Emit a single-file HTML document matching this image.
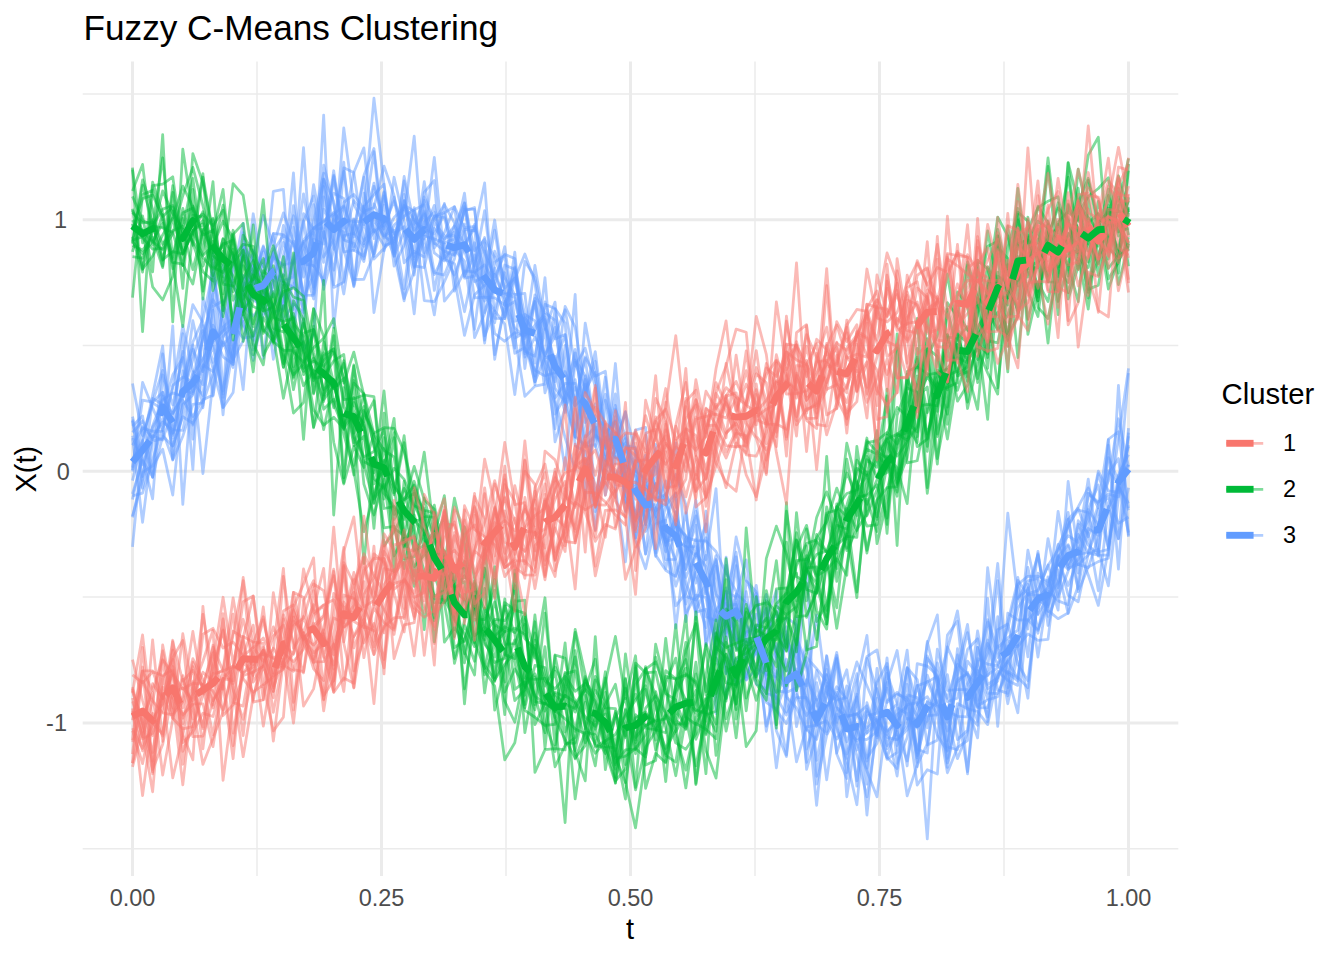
<!DOCTYPE html>
<html><head><meta charset="utf-8"><style>
html,body{margin:0;padding:0;background:#fff;width:1344px;height:960px;overflow:hidden}
svg{display:block}
text{font-family:"Liberation Sans",sans-serif}
.ax{font-size:23.5px;fill:#4D4D4D}
.lt{font-size:29.3px;fill:#000}
.lx{font-size:23.5px;fill:#000}
</style></head><body>
<svg width="1344" height="960" viewBox="0 0 1344 960">
<rect width="1344" height="960" fill="#fff"/>
<line x1="82.7" x2="1178.3" y1="93.90" y2="93.90" stroke="#EBEBEB" stroke-width="1.5"/>
<line x1="82.7" x2="1178.3" y1="345.50" y2="345.50" stroke="#EBEBEB" stroke-width="1.5"/>
<line x1="82.7" x2="1178.3" y1="597.10" y2="597.10" stroke="#EBEBEB" stroke-width="1.5"/>
<line x1="82.7" x2="1178.3" y1="848.70" y2="848.70" stroke="#EBEBEB" stroke-width="1.5"/>
<line y1="61.4" y2="875.9" x1="257.00" x2="257.00" stroke="#EBEBEB" stroke-width="1.5"/>
<line y1="61.4" y2="875.9" x1="506.00" x2="506.00" stroke="#EBEBEB" stroke-width="1.5"/>
<line y1="61.4" y2="875.9" x1="755.00" x2="755.00" stroke="#EBEBEB" stroke-width="1.5"/>
<line y1="61.4" y2="875.9" x1="1004.00" x2="1004.00" stroke="#EBEBEB" stroke-width="1.5"/>
<line x1="82.7" x2="1178.3" y1="219.70" y2="219.70" stroke="#EBEBEB" stroke-width="3"/>
<line x1="82.7" x2="1178.3" y1="471.30" y2="471.30" stroke="#EBEBEB" stroke-width="3"/>
<line x1="82.7" x2="1178.3" y1="722.90" y2="722.90" stroke="#EBEBEB" stroke-width="3"/>
<line y1="61.4" y2="875.9" x1="132.50" x2="132.50" stroke="#EBEBEB" stroke-width="3"/>
<line y1="61.4" y2="875.9" x1="381.50" x2="381.50" stroke="#EBEBEB" stroke-width="3"/>
<line y1="61.4" y2="875.9" x1="630.50" x2="630.50" stroke="#EBEBEB" stroke-width="3"/>
<line y1="61.4" y2="875.9" x1="879.50" x2="879.50" stroke="#EBEBEB" stroke-width="3"/>
<line y1="61.4" y2="875.9" x1="1128.50" x2="1128.50" stroke="#EBEBEB" stroke-width="3"/>
<clipPath id="cp"><rect x="82.7" y="61.4" width="1095.6" height="814.5"/></clipPath>
<g clip-path="url(#cp)">
<g stroke="#619CFF" stroke-opacity="0.5" stroke-width="2.76" fill="none" stroke-linejoin="round">
<path d="M132.50,419.56 142.56,476.65 152.62,425.74 162.68,399.80 172.74,392.85 182.80,396.80 192.86,320.74 202.92,366.74 212.98,272.80 223.05,337.64 233.11,272.88 243.17,223.28 253.23,350.09 263.29,297.00 273.35,281.05 283.41,242.35 293.47,268.24 303.53,349.78 313.59,334.54 323.65,186.45 333.71,242.62 343.77,294.02 353.83,230.01 363.89,175.41 373.95,148.46 384.02,235.98 394.08,230.20 404.14,288.80 414.20,207.67 424.26,252.95 434.32,216.35 444.38,212.64 454.44,206.80 464.50,276.39 474.56,242.77 484.62,335.89 494.68,310.76 504.74,324.10 514.80,394.65 524.86,314.41 534.92,320.85 544.98,355.69 555.05,327.40 565.11,397.85 575.17,436.89 585.23,384.08 595.29,446.49 605.35,377.05 615.41,463.67 625.47,438.57 635.53,467.13 645.59,524.80 655.65,451.59 665.71,502.47 675.77,538.80 685.83,546.92 695.89,546.54 705.95,583.20 716.02,713.50 726.08,603.22 736.14,640.69 746.20,632.07 756.26,628.66 766.32,608.62 776.38,698.96 786.44,631.62 796.50,676.52 806.56,657.54 816.62,668.62 826.68,681.86 836.74,753.17 846.80,720.97 856.86,696.81 866.92,758.09 876.98,743.35 887.05,700.69 897.11,692.36 907.17,701.58 917.23,749.24 927.29,753.06 937.35,649.24 947.41,690.43 957.47,689.74 967.53,689.65 977.59,721.32 987.65,643.48 997.71,664.32 1007.77,651.82 1017.83,597.80 1027.89,589.46 1037.95,554.79 1048.02,611.60 1058.08,554.89 1068.14,512.31 1078.20,591.73 1088.26,566.98 1098.32,561.63 1108.38,558.22 1118.44,484.24 1128.50,446.65"/>
<path d="M132.50,425.98 142.56,415.91 152.62,477.31 162.68,353.92 172.74,433.28 182.80,388.81 192.86,393.73 202.92,367.78 212.98,341.87 223.05,330.78 233.11,323.07 243.17,305.50 253.23,316.00 263.29,305.51 273.35,338.71 283.41,280.78 293.47,276.86 303.53,147.56 313.59,293.84 323.65,231.09 333.71,287.42 343.77,282.29 353.83,218.82 363.89,258.86 373.95,220.05 384.02,235.89 394.08,243.65 404.14,298.67 414.20,271.26 424.26,222.02 434.32,212.12 444.38,257.84 454.44,245.87 464.50,211.03 474.56,207.49 484.62,312.49 494.68,285.58 504.74,246.64 514.80,321.27 524.86,317.75 534.92,331.88 544.98,375.56 555.05,372.79 565.11,371.54 575.17,400.87 585.23,358.40 595.29,434.02 605.35,447.89 615.41,421.08 625.47,503.18 635.53,480.82 645.59,553.77 655.65,467.00 665.71,537.06 675.77,559.84 685.83,604.08 695.89,572.47 705.95,616.79 716.02,620.68 726.08,565.38 736.14,633.45 746.20,679.51 756.26,644.45 766.32,675.14 776.38,649.25 786.44,626.71 796.50,726.66 806.56,679.57 816.62,700.16 826.68,675.26 836.74,722.47 846.80,685.99 856.86,786.20 866.92,658.35 876.98,690.23 887.05,728.31 897.11,776.04 907.17,694.81 917.23,697.57 927.29,711.79 937.35,700.62 947.41,722.21 957.47,679.15 967.53,673.97 977.59,686.79 987.65,717.01 997.71,629.68 1007.77,624.01 1017.83,664.59 1027.89,680.66 1037.95,599.59 1048.02,606.65 1058.08,569.90 1068.14,613.65 1078.20,586.01 1088.26,493.51 1098.32,503.68 1108.38,481.02 1118.44,418.75 1128.50,466.44"/>
<path d="M132.50,546.82 142.56,442.75 152.62,395.24 162.68,345.96 172.74,460.07 182.80,436.23 192.86,404.43 202.92,402.94 212.98,373.34 223.05,342.27 233.11,367.46 243.17,232.70 253.23,293.61 263.29,289.65 273.35,257.32 283.41,264.94 293.47,262.49 303.53,193.79 313.59,250.63 323.65,284.71 333.71,216.49 343.77,240.06 353.83,243.21 363.89,261.56 373.95,203.82 384.02,226.30 394.08,201.03 404.14,231.11 414.20,249.89 424.26,181.61 434.32,243.79 444.38,203.46 454.44,291.22 464.50,271.00 474.56,271.99 484.62,285.84 494.68,230.25 504.74,292.85 514.80,294.32 524.86,351.34 534.92,356.15 544.98,304.39 555.05,308.52 565.11,323.29 575.17,437.35 585.23,323.05 595.29,377.49 605.35,432.56 615.41,420.83 625.47,499.98 635.53,520.65 645.59,493.36 655.65,556.28 665.71,519.56 675.77,493.21 685.83,596.37 695.89,600.04 705.95,584.83 716.02,638.95 726.08,628.44 736.14,593.89 746.20,602.47 756.26,636.13 766.32,731.32 776.38,673.55 786.44,640.59 796.50,658.50 806.56,703.93 816.62,805.26 826.68,706.76 836.74,692.15 846.80,715.84 856.86,714.40 866.92,705.82 876.98,737.83 887.05,673.18 897.11,703.60 907.17,765.98 917.23,663.67 927.29,666.10 937.35,675.23 947.41,762.91 957.47,714.56 967.53,661.11 977.59,674.60 987.65,653.44 997.71,563.30 1007.77,675.81 1017.83,712.78 1027.89,610.15 1037.95,633.28 1048.02,576.79 1058.08,610.10 1068.14,481.33 1078.20,554.48 1088.26,552.50 1098.32,525.19 1108.38,470.60 1118.44,483.58 1128.50,532.65"/>
<path d="M132.50,471.47 142.56,426.65 152.62,437.98 162.68,395.94 172.74,413.64 182.80,394.98 192.86,359.59 202.92,325.69 212.98,396.01 223.05,336.54 233.11,324.80 243.17,338.22 253.23,336.71 263.29,310.28 273.35,253.88 283.41,282.06 293.47,287.13 303.53,243.36 313.59,289.11 323.65,196.80 333.71,249.34 343.77,219.65 353.83,221.60 363.89,221.26 373.95,151.70 384.02,250.88 394.08,177.26 404.14,221.07 414.20,256.55 424.26,231.39 434.32,205.35 444.38,255.29 454.44,275.01 464.50,247.64 474.56,224.52 484.62,273.86 494.68,333.50 504.74,341.30 514.80,332.54 524.86,335.66 534.92,329.44 544.98,316.75 555.05,372.41 565.11,412.46 575.17,362.34 585.23,390.02 595.29,372.19 605.35,495.04 615.41,444.09 625.47,412.24 635.53,451.95 645.59,526.64 655.65,483.41 665.71,559.64 675.77,559.30 685.83,512.53 695.89,583.12 705.95,555.32 716.02,611.53 726.08,673.46 736.14,658.86 746.20,680.14 756.26,668.89 766.32,674.14 776.38,677.30 786.44,689.95 796.50,617.78 806.56,749.04 816.62,719.02 826.68,695.89 836.74,652.35 846.80,714.23 856.86,673.57 866.92,784.17 876.98,668.28 887.05,748.68 897.11,731.78 907.17,760.95 917.23,710.76 927.29,644.17 937.35,614.92 947.41,740.80 957.47,674.73 967.53,632.69 977.59,683.63 987.65,674.81 997.71,667.63 1007.77,622.36 1017.83,580.29 1027.89,594.52 1037.95,595.24 1048.02,605.02 1058.08,560.63 1068.14,585.55 1078.20,560.35 1088.26,493.11 1098.32,502.23 1108.38,494.05 1118.44,496.90 1128.50,436.16"/>
<path d="M132.50,420.92 142.56,488.15 152.62,437.36 162.68,421.83 172.74,429.94 182.80,430.48 192.86,377.88 202.92,338.42 212.98,293.24 223.05,407.33 233.11,348.63 243.17,321.33 253.23,360.44 263.29,314.80 273.35,305.36 283.41,293.62 293.47,340.12 303.53,241.47 313.59,266.29 323.65,178.89 333.71,201.01 343.77,281.65 353.83,219.81 363.89,243.66 373.95,186.46 384.02,217.73 394.08,241.51 404.14,205.72 414.20,219.27 424.26,235.01 434.32,157.31 444.38,259.21 454.44,263.64 464.50,311.75 474.56,263.35 484.62,237.48 494.68,359.33 504.74,301.42 514.80,348.14 524.86,261.35 534.92,277.38 544.98,329.43 555.05,302.07 565.11,403.16 575.17,349.37 585.23,422.49 595.29,403.76 605.35,442.85 615.41,457.90 625.47,442.71 635.53,528.49 645.59,504.69 655.65,504.60 665.71,541.96 675.77,538.23 685.83,569.39 695.89,511.10 705.95,559.64 716.02,488.61 726.08,643.98 736.14,596.09 746.20,559.88 756.26,639.25 766.32,702.32 776.38,709.49 786.44,682.11 796.50,639.79 806.56,668.41 816.62,784.07 826.68,735.49 836.74,714.14 846.80,772.60 856.86,694.13 866.92,815.00 876.98,717.46 887.05,737.38 897.11,739.89 907.17,729.78 917.23,703.93 927.29,696.60 937.35,714.85 947.41,772.81 957.47,747.39 967.53,740.56 977.59,647.49 987.65,675.77 997.71,645.95 1007.77,703.76 1017.83,653.24 1027.89,599.25 1037.95,614.06 1048.02,597.97 1058.08,582.16 1068.14,519.11 1078.20,573.01 1088.26,508.97 1098.32,485.00 1108.38,548.04 1118.44,482.68 1128.50,471.72"/>
<path d="M132.50,432.46 142.56,420.82 152.62,439.54 162.68,418.55 172.74,435.29 182.80,400.27 192.86,416.63 202.92,399.66 212.98,395.05 223.05,303.72 233.11,280.05 243.17,325.16 253.23,340.28 263.29,289.80 273.35,191.41 283.41,189.31 293.47,322.41 303.53,263.00 313.59,184.57 323.65,237.71 333.71,170.76 343.77,239.38 353.83,200.69 363.89,212.79 373.95,98.12 384.02,184.99 394.08,266.03 404.14,245.05 414.20,211.06 424.26,300.54 434.32,301.64 444.38,281.57 454.44,259.00 464.50,206.65 474.56,272.17 484.62,264.96 494.68,283.59 504.74,318.60 514.80,252.13 524.86,357.15 534.92,337.25 544.98,355.19 555.05,335.93 565.11,309.77 575.17,365.86 585.23,348.25 595.29,387.07 605.35,455.12 615.41,444.31 625.47,411.38 635.53,538.20 645.59,482.96 655.65,516.97 665.71,493.60 675.77,513.87 685.83,545.99 695.89,515.84 705.95,644.16 716.02,566.17 726.08,673.58 736.14,604.65 746.20,635.68 756.26,614.11 766.32,658.47 776.38,730.72 786.44,756.55 796.50,668.78 806.56,699.50 816.62,724.91 826.68,720.80 836.74,739.14 846.80,723.50 856.86,755.49 866.92,796.95 876.98,731.16 887.05,683.17 897.11,650.50 907.17,718.98 917.23,718.85 927.29,675.21 937.35,704.31 947.41,716.58 957.47,758.64 967.53,732.78 977.59,660.91 987.65,721.67 997.71,616.55 1007.77,695.74 1017.83,640.33 1027.89,620.56 1037.95,607.81 1048.02,587.89 1058.08,556.85 1068.14,569.57 1078.20,559.19 1088.26,528.44 1098.32,535.28 1108.38,445.13 1118.44,569.16 1128.50,432.54"/>
<path d="M132.50,480.68 142.56,439.40 152.62,402.18 162.68,392.15 172.74,433.04 182.80,333.76 192.86,439.04 202.92,330.56 212.98,368.28 223.05,407.64 233.11,392.54 243.17,300.32 253.23,213.76 263.29,276.16 273.35,233.35 283.41,234.70 293.47,282.21 303.53,213.52 313.59,229.12 323.65,228.47 333.71,193.26 343.77,198.58 353.83,247.17 363.89,206.33 373.95,253.66 384.02,195.92 394.08,236.82 404.14,205.20 414.20,211.15 424.26,239.00 434.32,215.97 444.38,217.56 454.44,254.57 464.50,209.17 474.56,209.26 484.62,296.07 494.68,310.49 504.74,272.61 514.80,338.01 524.86,332.73 534.92,298.33 544.98,363.70 555.05,428.78 565.11,345.35 575.17,445.73 585.23,451.54 595.29,529.77 605.35,400.18 615.41,437.91 625.47,445.87 635.53,447.40 645.59,496.80 655.65,552.78 665.71,505.45 675.77,492.99 685.83,613.97 695.89,595.08 705.95,597.62 716.02,649.21 726.08,587.78 736.14,649.44 746.20,591.62 756.26,648.59 766.32,633.97 776.38,612.60 786.44,670.75 796.50,648.56 806.56,688.78 816.62,760.41 826.68,708.22 836.74,686.70 846.80,699.09 856.86,726.90 866.92,768.06 876.98,698.47 887.05,757.20 897.11,768.59 907.17,696.63 917.23,762.33 927.29,702.33 937.35,706.23 947.41,750.29 957.47,648.55 967.53,707.46 977.59,630.96 987.65,684.51 997.71,677.83 1007.77,646.10 1017.83,646.54 1027.89,633.93 1037.95,640.45 1048.02,639.40 1058.08,556.29 1068.14,595.24 1078.20,601.76 1088.26,553.66 1098.32,549.14 1108.38,585.91 1118.44,498.24 1128.50,464.99"/>
<path d="M132.50,460.18 142.56,440.52 152.62,477.22 162.68,435.98 172.74,446.17 182.80,416.77 192.86,423.45 202.92,405.30 212.98,325.20 223.05,345.56 233.11,331.89 243.17,244.30 253.23,299.88 263.29,306.75 273.35,247.82 283.41,284.74 293.47,205.70 303.53,263.78 313.59,265.69 323.65,280.35 333.71,218.64 343.77,171.45 353.83,236.96 363.89,211.38 373.95,207.41 384.02,166.06 394.08,195.44 404.14,262.78 414.20,251.33 424.26,256.96 434.32,228.19 444.38,239.38 454.44,231.98 464.50,278.22 474.56,276.03 484.62,243.11 494.68,284.91 504.74,316.68 514.80,266.89 524.86,315.26 534.92,363.22 544.98,277.54 555.05,400.09 565.11,437.64 575.17,470.28 585.23,375.84 595.29,435.98 605.35,441.95 615.41,436.45 625.47,480.92 635.53,539.97 645.59,568.80 655.65,523.91 665.71,520.14 675.77,628.15 685.83,546.39 695.89,556.24 705.95,537.73 716.02,594.32 726.08,606.24 736.14,604.01 746.20,639.78 756.26,653.62 766.32,657.07 776.38,643.43 786.44,697.05 796.50,708.04 806.56,729.38 816.62,739.51 826.68,696.73 836.74,655.40 846.80,754.13 856.86,727.45 866.92,760.98 876.98,688.60 887.05,734.59 897.11,714.59 907.17,705.94 917.23,755.60 927.29,715.51 937.35,714.95 947.41,674.68 957.47,739.62 967.53,730.38 977.59,647.34 987.65,688.77 997.71,681.04 1007.77,640.66 1017.83,645.12 1027.89,550.04 1037.95,597.53 1048.02,587.53 1058.08,544.30 1068.14,567.07 1078.20,547.97 1088.26,574.98 1098.32,605.45 1108.38,548.71 1118.44,482.95 1128.50,510.30"/>
<path d="M132.50,445.30 142.56,427.98 152.62,431.25 162.68,431.29 172.74,459.65 182.80,404.45 192.86,394.88 202.92,338.13 212.98,299.59 223.05,316.37 233.11,364.71 243.17,246.51 253.23,259.55 263.29,278.04 273.35,359.29 283.41,302.38 293.47,260.10 303.53,220.79 313.59,286.97 323.65,115.08 333.71,327.43 343.77,235.70 353.83,233.32 363.89,246.29 373.95,232.02 384.02,191.71 394.08,253.49 404.14,300.87 414.20,221.49 424.26,228.87 434.32,234.03 444.38,214.03 454.44,246.36 464.50,224.12 474.56,337.71 484.62,313.66 494.68,267.99 504.74,305.30 514.80,267.89 524.86,353.69 534.92,301.31 544.98,367.30 555.05,398.02 565.11,383.36 575.17,383.37 585.23,446.75 595.29,444.70 605.35,478.58 615.41,409.01 625.47,436.01 635.53,518.25 645.59,474.18 655.65,520.70 665.71,568.75 675.77,526.29 685.83,569.54 695.89,538.96 705.95,593.94 716.02,555.70 726.08,633.21 736.14,618.54 746.20,625.08 756.26,640.08 766.32,653.83 776.38,672.00 786.44,684.20 796.50,637.68 806.56,662.46 816.62,726.38 826.68,656.36 836.74,708.34 846.80,741.74 856.86,713.93 866.92,728.04 876.98,719.06 887.05,759.35 897.11,752.29 907.17,667.64 917.23,679.53 927.29,744.91 937.35,740.30 947.41,635.12 957.47,621.03 967.53,714.42 977.59,725.40 987.65,567.57 997.71,647.46 1007.77,637.88 1017.83,630.15 1027.89,567.46 1037.95,614.56 1048.02,538.55 1058.08,587.76 1068.14,545.75 1078.20,588.81 1088.26,528.06 1098.32,473.60 1108.38,509.32 1118.44,438.86 1128.50,368.38"/>
<path d="M132.50,435.75 142.56,464.73 152.62,435.81 162.68,440.06 172.74,325.89 182.80,504.46 192.86,374.74 202.92,359.01 212.98,340.92 223.05,394.07 233.11,313.96 243.17,302.49 253.23,250.18 263.29,266.72 273.35,233.92 283.41,302.49 293.47,262.20 303.53,242.29 313.59,232.16 323.65,262.45 333.71,175.22 343.77,249.88 353.83,284.45 363.89,206.06 373.95,194.90 384.02,184.10 394.08,256.20 404.14,231.63 414.20,275.17 424.26,196.92 434.32,220.42 444.38,204.75 454.44,222.91 464.50,276.34 474.56,255.05 484.62,343.11 494.68,262.17 504.74,255.42 514.80,336.59 524.86,396.38 534.92,386.10 544.98,384.07 555.05,309.18 565.11,370.29 575.17,431.96 585.23,379.44 595.29,498.26 605.35,440.87 615.41,405.38 625.47,476.21 635.53,430.02 645.59,427.46 655.65,555.13 665.71,570.22 675.77,576.70 685.83,537.40 695.89,540.66 705.95,540.96 716.02,551.50 726.08,573.37 736.14,591.36 746.20,632.89 756.26,684.13 766.32,688.85 776.38,656.13 786.44,617.24 796.50,624.81 806.56,769.43 816.62,734.84 826.68,655.50 836.74,753.96 846.80,778.46 856.86,697.70 866.92,656.71 876.98,649.86 887.05,702.51 897.11,694.19 907.17,697.94 917.23,716.49 927.29,838.80 937.35,677.62 947.41,714.93 957.47,654.96 967.53,708.75 977.59,737.94 987.65,619.58 997.71,649.28 1007.77,513.01 1017.83,598.47 1027.89,580.90 1037.95,578.50 1048.02,616.40 1058.08,593.42 1068.14,524.81 1078.20,509.99 1088.26,512.49 1098.32,556.15 1108.38,439.57 1118.44,538.84 1128.50,487.65"/>
<path d="M132.50,383.55 142.56,435.56 152.62,402.81 162.68,409.46 172.74,445.70 182.80,415.34 192.86,371.55 202.92,473.68 212.98,380.97 223.05,305.14 233.11,333.39 243.17,320.28 253.23,264.86 263.29,307.02 273.35,252.29 283.41,320.03 293.47,303.84 303.53,312.71 313.59,239.25 323.65,244.05 333.71,176.63 343.77,228.37 353.83,172.43 363.89,147.84 373.95,238.51 384.02,205.07 394.08,252.38 404.14,194.41 414.20,265.78 424.26,267.54 434.32,222.64 444.38,235.81 454.44,235.96 464.50,250.79 474.56,281.78 484.62,276.00 494.68,220.01 504.74,292.66 514.80,353.30 524.86,347.64 534.92,370.21 544.98,376.03 555.05,403.60 565.11,469.53 575.17,360.00 585.23,375.51 595.29,425.33 605.35,458.86 615.41,478.04 625.47,448.27 635.53,470.73 645.59,479.30 655.65,510.87 665.71,503.37 675.77,525.91 685.83,536.28 695.89,553.46 705.95,523.87 716.02,640.36 726.08,557.05 736.14,639.44 746.20,641.51 756.26,647.55 766.32,678.36 776.38,767.89 786.44,692.58 796.50,687.63 806.56,762.31 816.62,682.61 826.68,731.60 836.74,659.16 846.80,707.57 856.86,750.11 866.92,715.78 876.98,713.15 887.05,688.19 897.11,727.27 907.17,795.82 917.23,764.86 927.29,743.91 937.35,690.24 947.41,710.91 957.47,716.26 967.53,716.98 977.59,670.45 987.65,698.71 997.71,671.14 1007.77,680.40 1017.83,685.42 1027.89,584.43 1037.95,657.05 1048.02,590.87 1058.08,600.88 1068.14,604.76 1078.20,540.02 1088.26,520.41 1098.32,471.19 1108.38,490.88 1118.44,492.48 1128.50,373.08"/>
<path d="M132.50,495.84 142.56,493.20 152.62,459.64 162.68,427.85 172.74,385.45 182.80,377.10 192.86,381.78 202.92,395.49 212.98,306.43 223.05,300.69 233.11,349.46 243.17,283.66 253.23,280.69 263.29,247.03 273.35,270.37 283.41,309.42 293.47,227.22 303.53,277.03 313.59,222.54 323.65,173.11 333.71,284.59 343.77,167.85 353.83,172.45 363.89,241.20 373.95,229.47 384.02,245.62 394.08,242.02 404.14,200.39 414.20,258.96 424.26,235.98 434.32,238.97 444.38,242.88 454.44,239.02 464.50,193.15 474.56,278.86 484.62,301.09 494.68,251.25 504.74,277.63 514.80,294.64 524.86,293.47 534.92,381.91 544.98,301.93 555.05,338.88 565.11,334.52 575.17,407.84 585.23,469.93 595.29,434.16 605.35,465.77 615.41,363.50 625.47,478.92 635.53,487.42 645.59,455.10 655.65,487.64 665.71,501.33 675.77,442.79 685.83,551.08 695.89,500.27 705.95,577.01 716.02,655.60 726.08,698.03 736.14,602.31 746.20,676.77 756.26,649.03 766.32,594.38 776.38,658.41 786.44,691.61 796.50,761.83 806.56,726.95 816.62,725.09 826.68,683.24 836.74,695.56 846.80,717.04 856.86,713.54 866.92,732.98 876.98,721.73 887.05,712.36 897.11,704.40 907.17,650.10 917.23,757.78 927.29,655.89 937.35,680.99 947.41,758.48 957.47,703.53 967.53,708.84 977.59,711.46 987.65,724.62 997.71,674.77 1007.77,661.35 1017.83,645.24 1027.89,698.26 1037.95,590.66 1048.02,565.46 1058.08,549.64 1068.14,535.72 1078.20,542.24 1088.26,479.07 1098.32,551.99 1108.38,549.44 1118.44,474.51 1128.50,454.66"/>
<path d="M132.50,499.47 142.56,453.96 152.62,427.25 162.68,409.36 172.74,375.03 182.80,357.57 192.86,469.45 202.92,297.95 212.98,331.76 223.05,356.80 233.11,364.19 243.17,275.42 253.23,285.29 263.29,245.79 273.35,278.30 283.41,275.54 293.47,172.92 303.53,326.36 313.59,227.68 323.65,221.75 333.71,214.49 343.77,205.73 353.83,233.95 363.89,177.23 373.95,312.61 384.02,250.13 394.08,224.99 404.14,216.10 414.20,209.69 424.26,204.67 434.32,290.47 444.38,238.95 454.44,226.09 464.50,203.35 474.56,266.11 484.62,210.73 494.68,291.78 504.74,293.87 514.80,297.49 524.86,334.73 534.92,301.61 544.98,392.85 555.05,356.22 565.11,390.83 575.17,405.89 585.23,356.96 595.29,376.16 605.35,371.24 615.41,457.34 625.47,462.09 635.53,537.84 645.59,509.87 655.65,444.47 665.71,542.45 675.77,586.20 685.83,555.77 695.89,525.13 705.95,646.14 716.02,610.12 726.08,596.32 736.14,552.20 746.20,662.29 756.26,593.27 766.32,677.78 776.38,710.42 786.44,723.58 796.50,697.54 806.56,697.58 816.62,715.55 826.68,669.35 836.74,706.65 846.80,721.56 856.86,743.08 866.92,771.02 876.98,796.81 887.05,714.56 897.11,720.39 907.17,667.56 917.23,704.82 927.29,681.47 937.35,704.78 947.41,731.05 957.47,682.14 967.53,672.27 977.59,707.10 987.65,667.66 997.71,580.61 1007.77,687.54 1017.83,577.47 1027.89,629.05 1037.95,551.38 1048.02,625.44 1058.08,581.93 1068.14,553.06 1078.20,554.06 1088.26,509.63 1098.32,525.21 1108.38,457.53 1118.44,480.83 1128.50,445.17"/>
<path d="M132.50,516.04 142.56,480.19 152.62,398.33 162.68,404.48 172.74,413.24 182.80,396.90 192.86,349.30 202.92,371.61 212.98,346.14 223.05,397.39 233.11,255.17 243.17,280.67 253.23,266.27 263.29,358.39 273.35,276.81 283.41,281.79 293.47,309.45 303.53,222.07 313.59,195.86 323.65,257.15 333.71,239.70 343.77,162.20 353.83,285.79 363.89,193.16 373.95,231.84 384.02,224.08 394.08,243.55 404.14,180.87 414.20,267.57 424.26,192.47 434.32,180.46 444.38,301.19 454.44,288.40 464.50,231.08 474.56,297.92 484.62,297.18 494.68,297.96 504.74,304.99 514.80,276.98 524.86,338.53 534.92,325.26 544.98,314.23 555.05,414.14 565.11,396.45 575.17,352.80 585.23,414.63 595.29,511.54 605.35,463.92 615.41,416.59 625.47,479.42 635.53,494.55 645.59,500.72 655.65,483.90 665.71,545.26 675.77,524.22 685.83,535.72 695.89,610.63 705.95,588.92 716.02,620.86 726.08,598.24 736.14,683.75 746.20,580.97 756.26,599.82 766.32,693.26 776.38,696.79 786.44,715.06 796.50,694.35 806.56,715.64 816.62,699.11 826.68,779.83 836.74,707.82 846.80,716.98 856.86,780.75 866.92,711.69 876.98,720.79 887.05,731.32 897.11,721.85 907.17,704.55 917.23,702.72 927.29,727.84 937.35,662.92 947.41,701.54 957.47,698.20 967.53,649.44 977.59,638.81 987.65,693.02 997.71,693.53 1007.77,671.55 1017.83,677.40 1027.89,687.70 1037.95,595.60 1048.02,599.10 1058.08,555.19 1068.14,564.87 1078.20,534.37 1088.26,553.21 1098.32,555.15 1108.38,473.78 1118.44,458.53 1128.50,536.73"/>
<path d="M132.50,438.19 142.56,522.27 152.62,441.17 162.68,438.59 172.74,412.94 182.80,351.42 192.86,425.16 202.92,373.18 212.98,252.61 223.05,391.07 233.11,345.77 243.17,311.12 253.23,290.13 263.29,306.60 273.35,286.06 283.41,225.44 293.47,264.33 303.53,240.03 313.59,228.49 323.65,220.91 333.71,212.46 343.77,224.73 353.83,250.27 363.89,223.45 373.95,256.34 384.02,216.21 394.08,233.62 404.14,226.73 414.20,266.51 424.26,239.48 434.32,274.66 444.38,254.55 454.44,225.98 464.50,244.33 474.56,227.92 484.62,252.67 494.68,276.93 504.74,254.31 514.80,258.57 524.86,368.58 534.92,294.96 544.98,312.70 555.05,320.46 565.11,404.72 575.17,294.33 585.23,498.32 595.29,415.61 605.35,427.09 615.41,453.03 625.47,435.09 635.53,474.60 645.59,524.58 655.65,457.84 665.71,537.82 675.77,519.14 685.83,582.51 695.89,612.17 705.95,609.45 716.02,640.43 726.08,593.85 736.14,685.40 746.20,675.99 756.26,649.59 766.32,726.19 776.38,690.57 786.44,692.28 796.50,638.39 806.56,706.45 816.62,723.11 826.68,734.09 836.74,696.92 846.80,729.62 856.86,740.86 866.92,732.66 876.98,682.67 887.05,663.45 897.11,745.62 907.17,718.30 917.23,728.04 927.29,641.46 937.35,684.04 947.41,767.36 957.47,709.46 967.53,771.62 977.59,679.76 987.65,640.01 997.71,689.88 1007.77,693.33 1017.83,585.63 1027.89,656.88 1037.95,573.07 1048.02,585.55 1058.08,546.19 1068.14,526.97 1078.20,506.79 1088.26,487.84 1098.32,507.77 1108.38,496.67 1118.44,523.31 1128.50,516.98"/>
<path d="M132.50,494.00 142.56,460.47 152.62,476.71 162.68,392.29 172.74,438.12 182.80,379.94 192.86,344.94 202.92,407.78 212.98,310.37 223.05,414.85 233.11,313.45 243.17,252.52 253.23,276.71 263.29,251.95 273.35,296.91 283.41,255.09 293.47,215.75 303.53,299.69 313.59,204.63 323.65,289.46 333.71,249.87 343.77,127.81 353.83,204.25 363.89,224.68 373.95,183.05 384.02,228.93 394.08,197.02 404.14,235.27 414.20,313.92 424.26,210.97 434.32,252.84 444.38,260.88 454.44,245.72 464.50,202.74 474.56,250.67 484.62,239.32 494.68,257.41 504.74,288.15 514.80,278.21 524.86,320.99 534.92,375.78 544.98,328.94 555.05,441.97 565.11,407.65 575.17,387.49 585.23,406.48 595.29,431.73 605.35,394.24 615.41,487.75 625.47,561.96 635.53,449.83 645.59,493.51 655.65,515.15 665.71,541.49 675.77,605.85 685.83,593.31 695.89,553.02 705.95,585.88 716.02,654.09 726.08,591.40 736.14,597.15 746.20,644.14 756.26,651.23 766.32,608.27 776.38,656.61 786.44,634.74 796.50,690.89 806.56,640.90 816.62,706.22 826.68,674.43 836.74,726.81 846.80,758.21 856.86,682.54 866.92,635.46 876.98,735.17 887.05,667.18 897.11,730.29 907.17,684.23 917.23,753.14 927.29,701.15 937.35,735.15 947.41,751.19 957.47,668.35 967.53,624.34 977.59,706.01 987.65,699.94 997.71,696.60 1007.77,662.21 1017.83,607.90 1027.89,593.60 1037.95,590.61 1048.02,564.96 1058.08,597.13 1068.14,571.33 1078.20,524.07 1088.26,545.12 1098.32,555.21 1108.38,555.14 1118.44,385.45 1128.50,535.45"/>
<path d="M132.50,470.19 142.56,382.34 152.62,407.84 162.68,430.68 172.74,387.98 182.80,325.43 192.86,370.63 202.92,384.64 212.98,294.18 223.05,264.74 233.11,359.28 243.17,282.45 253.23,292.79 263.29,260.00 273.35,256.14 283.41,267.13 293.47,240.97 303.53,295.21 313.59,295.44 323.65,209.07 333.71,227.80 343.77,231.76 353.83,286.78 363.89,242.74 373.95,212.73 384.02,238.09 394.08,217.42 404.14,207.73 414.20,230.22 424.26,212.66 434.32,242.71 444.38,251.25 454.44,255.46 464.50,229.30 474.56,230.84 484.62,182.95 494.68,318.26 504.74,318.69 514.80,279.23 524.86,253.97 534.92,282.33 544.98,359.71 555.05,381.61 565.11,306.40 575.17,327.02 585.23,392.32 595.29,351.69 605.35,431.85 615.41,478.25 625.47,465.23 635.53,476.27 645.59,554.07 655.65,517.53 665.71,542.53 675.77,523.64 685.83,577.40 695.89,553.98 705.95,566.35 716.02,611.08 726.08,615.61 736.14,536.95 746.20,580.64 756.26,591.94 766.32,659.25 776.38,703.21 786.44,659.22 796.50,686.70 806.56,561.45 816.62,776.27 826.68,716.72 836.74,657.81 846.80,796.76 856.86,730.14 866.92,709.50 876.98,731.16 887.05,757.78 897.11,725.96 907.17,668.56 917.23,766.69 927.29,658.16 937.35,671.84 947.41,746.84 957.47,749.71 967.53,683.79 977.59,665.44 987.65,621.81 997.71,657.54 1007.77,629.06 1017.83,584.37 1027.89,576.29 1037.95,576.15 1048.02,581.40 1058.08,565.06 1068.14,519.42 1078.20,508.21 1088.26,536.81 1098.32,505.16 1108.38,439.27 1118.44,431.73 1128.50,508.18"/>
<path d="M132.50,416.64 142.56,458.58 152.62,498.84 162.68,374.91 172.74,404.92 182.80,356.30 192.86,304.61 202.92,322.41 212.98,362.32 223.05,340.37 233.11,359.38 243.17,340.59 253.23,279.20 263.29,297.77 273.35,251.18 283.41,234.94 293.47,243.79 303.53,264.57 313.59,298.97 323.65,231.94 333.71,270.21 343.77,202.41 353.83,194.36 363.89,209.32 373.95,259.16 384.02,248.23 394.08,239.04 404.14,216.70 414.20,136.10 424.26,263.54 434.32,314.94 444.38,243.78 454.44,277.54 464.50,335.40 474.56,294.82 484.62,285.19 494.68,322.75 504.74,264.98 514.80,269.29 524.86,328.03 534.92,384.54 544.98,319.63 555.05,388.27 565.11,401.75 575.17,379.62 585.23,437.26 595.29,426.99 605.35,460.64 615.41,432.58 625.47,495.26 635.53,511.13 645.59,531.52 655.65,510.64 665.71,480.88 675.77,575.73 685.83,549.12 695.89,596.94 705.95,627.67 716.02,559.36 726.08,635.45 736.14,565.66 746.20,664.99 756.26,625.82 766.32,619.53 776.38,590.72 786.44,712.14 796.50,686.31 806.56,661.41 816.62,722.30 826.68,686.61 836.74,730.06 846.80,760.34 856.86,804.77 866.92,702.69 876.98,735.77 887.05,657.78 897.11,763.48 907.17,737.51 917.23,685.34 927.29,721.40 937.35,687.91 947.41,649.11 957.47,610.92 967.53,683.15 977.59,707.88 987.65,707.51 997.71,676.75 1007.77,661.02 1017.83,678.73 1027.89,597.91 1037.95,553.59 1048.02,610.36 1058.08,618.70 1068.14,612.89 1078.20,520.74 1088.26,533.30 1098.32,590.80 1108.38,507.82 1118.44,487.25 1128.50,503.14"/>
<path d="M132.50,517.39 142.56,472.44 152.62,465.95 162.68,449.14 172.74,495.03 182.80,398.43 192.86,341.99 202.92,319.52 212.98,270.69 223.05,325.26 233.11,361.83 243.17,290.62 253.23,256.17 263.29,215.28 273.35,245.40 283.41,212.83 293.47,240.93 303.53,297.74 313.59,274.94 323.65,165.05 333.71,204.47 343.77,251.99 353.83,250.16 363.89,256.00 373.95,214.38 384.02,229.17 394.08,256.03 404.14,176.44 414.20,224.33 424.26,200.20 434.32,247.88 444.38,232.63 454.44,206.86 464.50,227.91 474.56,226.30 484.62,340.02 494.68,274.47 504.74,299.22 514.80,328.08 524.86,336.93 534.92,265.38 544.98,325.81 555.05,361.47 565.11,334.99 575.17,405.83 585.23,395.18 595.29,361.27 605.35,444.10 615.41,477.54 625.47,484.01 635.53,518.94 645.59,485.68 655.65,498.68 665.71,494.44 675.77,474.19 685.83,504.32 695.89,619.38 705.95,511.14 716.02,595.28 726.08,628.57 736.14,556.80 746.20,622.87 756.26,585.29 766.32,663.09 776.38,699.10 786.44,754.97 796.50,646.66 806.56,730.25 816.62,670.48 826.68,704.54 836.74,695.97 846.80,669.76 856.86,738.65 866.92,739.53 876.98,731.61 887.05,682.60 897.11,739.27 907.17,725.70 917.23,685.75 927.29,682.16 937.35,676.26 947.41,698.31 957.47,664.29 967.53,674.30 977.59,700.13 987.65,598.48 997.71,726.43 1007.77,613.01 1017.83,620.13 1027.89,619.62 1037.95,630.40 1048.02,603.46 1058.08,511.29 1068.14,568.47 1078.20,564.32 1088.26,567.64 1098.32,537.62 1108.38,506.33 1118.44,538.50 1128.50,428.17"/>
<path d="M132.50,467.61 142.56,400.05 152.62,402.07 162.68,370.31 172.74,458.53 182.80,370.92 192.86,391.44 202.92,364.93 212.98,371.60 223.05,327.16 233.11,318.59 243.17,389.58 253.23,265.50 263.29,280.65 273.35,312.70 283.41,307.92 293.47,283.56 303.53,309.29 313.59,237.24 323.65,179.57 333.71,223.77 343.77,206.90 353.83,279.50 363.89,279.34 373.95,253.82 384.02,192.52 394.08,253.87 404.14,201.18 414.20,233.29 424.26,214.32 434.32,272.75 444.38,275.05 454.44,249.80 464.50,261.28 474.56,329.33 484.62,250.82 494.68,354.73 504.74,307.66 514.80,301.46 524.86,342.26 534.92,381.61 544.98,357.11 555.05,360.18 565.11,405.30 575.17,436.47 585.23,445.50 595.29,435.81 605.35,448.63 615.41,393.81 625.47,511.84 635.53,464.90 645.59,510.97 655.65,507.55 665.71,551.77 675.77,511.89 685.83,621.63 695.89,566.37 705.95,585.61 716.02,560.69 726.08,622.44 736.14,608.09 746.20,623.98 756.26,675.03 766.32,664.61 776.38,676.56 786.44,638.52 796.50,680.16 806.56,685.76 816.62,614.92 826.68,693.35 836.74,700.12 846.80,697.50 856.86,661.92 866.92,685.82 876.98,710.10 887.05,745.67 897.11,707.87 907.17,713.74 917.23,785.11 927.29,769.71 937.35,774.05 947.41,646.78 957.47,669.74 967.53,773.80 977.59,658.62 987.65,664.17 997.71,665.79 1007.77,673.02 1017.83,680.92 1027.89,587.92 1037.95,629.10 1048.02,598.62 1058.08,557.29 1068.14,544.62 1078.20,564.65 1088.26,554.89 1098.32,509.12 1108.38,547.62 1118.44,475.70 1128.50,464.75"/>
</g>
<g stroke="#00BA38" stroke-opacity="0.5" stroke-width="2.76" fill="none" stroke-linejoin="round">
<path d="M132.50,210.24 142.56,230.70 152.62,286.82 162.68,299.98 172.74,276.52 182.80,218.46 192.86,243.47 202.92,271.83 212.98,280.95 223.05,238.82 233.11,329.49 243.17,250.33 253.23,272.25 263.29,333.42 273.35,316.34 283.41,291.65 293.47,287.67 303.53,296.28 313.59,352.78 323.65,389.60 333.71,379.40 343.77,421.72 353.83,465.46 363.89,411.56 373.95,433.11 384.02,427.70 394.08,428.34 404.14,451.56 414.20,493.04 424.26,539.72 434.32,557.04 444.38,584.09 454.44,612.50 464.50,611.82 474.56,587.50 484.62,609.15 494.68,681.56 504.74,602.58 514.80,610.08 524.86,613.10 534.92,724.72 544.98,702.76 555.05,710.39 565.11,718.82 575.17,729.04 585.23,733.84 595.29,753.35 605.35,740.98 615.41,734.29 625.47,715.46 635.53,699.92 645.59,685.61 655.65,749.96 665.71,715.11 675.77,624.56 685.83,725.16 695.89,673.85 705.95,721.29 716.02,646.96 726.08,657.95 736.14,703.72 746.20,620.12 756.26,605.31 766.32,602.75 776.38,728.14 786.44,605.24 796.50,539.74 806.56,589.49 816.62,593.34 826.68,559.41 836.74,628.28 846.80,565.79 856.86,510.40 866.92,459.71 876.98,467.29 887.05,435.12 897.11,482.36 907.17,371.54 917.23,367.05 927.29,373.30 937.35,388.03 947.41,334.27 957.47,375.88 967.53,371.79 977.59,409.46 987.65,305.36 997.71,387.87 1007.77,290.13 1017.83,261.91 1027.89,238.90 1037.95,221.08 1048.02,228.22 1058.08,276.56 1068.14,204.11 1078.20,229.87 1088.26,298.14 1098.32,228.52 1108.38,289.03 1118.44,259.97 1128.50,243.07"/>
<path d="M132.50,241.85 142.56,185.22 152.62,224.19 162.68,259.61 172.74,251.69 182.80,253.97 192.86,230.62 202.92,223.76 212.98,267.32 223.05,272.45 233.11,249.14 243.17,311.37 253.23,295.27 263.29,305.97 273.35,341.53 283.41,350.26 293.47,350.25 303.53,385.76 313.59,370.38 323.65,429.66 333.71,382.42 343.77,429.69 353.83,397.46 363.89,427.32 373.95,478.66 384.02,488.41 394.08,468.24 404.14,479.35 414.20,504.84 424.26,525.96 434.32,620.82 444.38,564.00 454.44,636.55 464.50,594.23 474.56,635.61 484.62,627.65 494.68,680.60 504.74,653.99 514.80,601.46 524.86,600.19 534.92,772.46 544.98,749.60 555.05,748.55 565.11,749.96 575.17,629.26 585.23,674.38 595.29,720.85 605.35,682.70 615.41,636.42 625.47,698.73 635.53,655.76 645.59,765.07 655.65,760.47 665.71,676.41 675.77,679.05 685.83,674.89 695.89,683.46 705.95,712.71 716.02,651.33 726.08,608.80 736.14,622.26 746.20,710.92 756.26,629.88 766.32,635.60 776.38,620.38 786.44,617.55 796.50,644.87 806.56,570.52 816.62,517.49 826.68,491.83 836.74,520.23 846.80,550.62 856.86,529.11 866.92,514.31 876.98,452.52 887.05,468.23 897.11,333.81 907.17,437.74 917.23,406.39 927.29,404.40 937.35,405.76 947.41,334.79 957.47,372.39 967.53,338.56 977.59,336.00 987.65,419.40 997.71,276.02 1007.77,283.25 1017.83,310.77 1027.89,217.25 1037.95,307.30 1048.02,318.54 1058.08,270.05 1068.14,282.42 1078.20,202.46 1088.26,224.52 1098.32,238.21 1108.38,221.37 1118.44,256.10 1128.50,212.84"/>
<path d="M132.50,212.52 142.56,222.91 152.62,221.83 162.68,266.07 172.74,192.47 182.80,288.34 192.86,153.62 202.92,182.83 212.98,231.82 223.05,310.67 233.11,252.61 243.17,341.33 253.23,299.40 263.29,270.74 273.35,280.93 283.41,324.11 293.47,347.64 303.53,342.53 313.59,426.86 323.65,395.71 333.71,328.19 343.77,477.58 353.83,366.13 363.89,423.48 373.95,472.93 384.02,390.84 394.08,492.76 404.14,435.62 414.20,521.89 424.26,517.46 434.32,575.27 444.38,603.54 454.44,658.52 464.50,620.58 474.56,583.22 484.62,665.27 494.68,679.82 504.74,664.36 514.80,652.80 524.86,687.74 534.92,632.78 544.98,676.12 555.05,696.29 565.11,743.41 575.17,743.04 585.23,695.32 595.29,729.26 605.35,677.99 615.41,783.42 625.47,710.12 635.53,742.57 645.59,666.53 655.65,703.62 665.71,755.41 675.77,762.07 685.83,699.06 695.89,713.38 705.95,698.09 716.02,693.42 726.08,653.82 736.14,709.64 746.20,527.82 756.26,636.69 766.32,656.31 776.38,629.14 786.44,590.21 796.50,573.17 806.56,650.01 816.62,646.48 826.68,556.98 836.74,506.76 846.80,516.56 856.86,468.40 866.92,476.02 876.98,459.76 887.05,395.92 897.11,483.50 907.17,457.47 917.23,397.32 927.29,387.01 937.35,464.05 947.41,346.48 957.47,401.16 967.53,384.90 977.59,260.18 987.65,268.86 997.71,328.82 1007.77,226.31 1017.83,298.55 1027.89,229.87 1037.95,207.68 1048.02,201.21 1058.08,196.77 1068.14,248.57 1078.20,252.90 1088.26,180.44 1098.32,226.95 1108.38,247.48 1118.44,258.89 1128.50,170.58"/>
<path d="M132.50,191.09 142.56,164.37 152.62,245.11 162.68,214.45 172.74,268.77 182.80,229.01 192.86,269.66 202.92,229.45 212.98,252.86 223.05,205.08 233.11,256.72 243.17,293.81 253.23,354.89 263.29,317.68 273.35,334.77 283.41,282.04 293.47,321.39 303.53,374.66 313.59,358.18 323.65,376.44 333.71,384.17 343.77,423.21 353.83,382.89 363.89,393.99 373.95,503.50 384.02,437.70 394.08,519.43 404.14,498.73 414.20,485.05 424.26,519.70 434.32,553.91 444.38,564.88 454.44,498.09 464.50,542.88 474.56,610.27 484.62,635.78 494.68,566.56 504.74,644.40 514.80,643.61 524.86,619.65 534.92,701.68 544.98,703.60 555.05,709.35 565.11,695.33 575.17,798.93 585.23,728.49 595.29,690.03 605.35,707.97 615.41,708.53 625.47,782.66 635.53,714.60 645.59,726.09 655.65,718.97 665.71,683.02 675.77,658.06 685.83,717.24 695.89,724.34 705.95,704.28 716.02,657.94 726.08,683.01 736.14,684.83 746.20,660.79 756.26,596.69 766.32,670.81 776.38,635.40 786.44,650.51 796.50,512.61 806.56,600.88 816.62,534.31 826.68,552.16 836.74,544.96 846.80,536.48 856.86,537.44 866.92,440.61 876.98,451.67 887.05,458.15 897.11,484.74 907.17,445.97 917.23,376.01 927.29,434.13 937.35,403.09 947.41,337.22 957.47,338.08 967.53,361.30 977.59,262.99 987.65,357.59 997.71,247.16 1007.77,258.48 1017.83,357.73 1027.89,256.61 1037.95,229.41 1048.02,281.32 1058.08,244.53 1068.14,298.99 1078.20,266.51 1088.26,222.60 1098.32,214.01 1108.38,224.50 1118.44,249.43 1128.50,197.29"/>
<path d="M132.50,169.60 142.56,242.88 152.62,219.59 162.68,244.29 172.74,230.82 182.80,226.20 192.86,241.58 202.92,257.51 212.98,269.22 223.05,258.36 233.11,276.27 243.17,299.11 253.23,274.97 263.29,285.35 273.35,306.23 283.41,366.91 293.47,323.46 303.53,336.41 313.59,377.47 323.65,360.61 333.71,348.88 343.77,399.61 353.83,398.74 363.89,395.01 373.95,396.72 384.02,493.43 394.08,506.63 404.14,519.52 414.20,481.27 424.26,516.39 434.32,517.44 444.38,557.13 454.44,593.91 464.50,652.06 474.56,675.00 484.62,547.77 494.68,635.91 504.74,626.72 514.80,632.60 524.86,614.49 534.92,654.63 544.98,686.17 555.05,666.89 565.11,688.69 575.17,731.45 585.23,676.53 595.29,710.51 605.35,721.05 615.41,756.51 625.47,679.45 635.53,737.49 645.59,725.51 655.65,720.80 665.71,718.87 675.77,691.74 685.83,673.69 695.89,681.54 705.95,750.45 716.02,778.10 726.08,692.31 736.14,675.91 746.20,664.43 756.26,700.35 766.32,661.70 776.38,692.32 786.44,511.07 796.50,576.47 806.56,583.26 816.62,639.84 826.68,563.66 836.74,507.38 846.80,493.46 856.86,489.97 866.92,438.02 876.98,543.64 887.05,500.93 897.11,444.14 907.17,421.98 917.23,432.08 927.29,351.39 937.35,458.59 947.41,405.06 957.47,291.94 967.53,304.97 977.59,382.64 987.65,281.57 997.71,286.79 1007.77,339.44 1017.83,264.99 1027.89,234.99 1037.95,297.20 1048.02,231.83 1058.08,290.76 1068.14,217.73 1078.20,269.36 1088.26,241.94 1098.32,263.56 1108.38,195.39 1118.44,225.66 1128.50,200.88"/>
<path d="M132.50,196.40 142.56,220.38 152.62,225.17 162.68,209.15 172.74,205.54 182.80,232.90 192.86,221.92 202.92,213.90 212.98,225.78 223.05,210.21 233.11,340.07 243.17,265.55 253.23,283.37 263.29,329.51 273.35,341.07 283.41,305.57 293.47,352.06 303.53,362.30 313.59,347.64 323.65,338.36 333.71,318.59 343.77,382.93 353.83,352.05 363.89,395.42 373.95,446.74 384.02,465.70 394.08,418.37 404.14,545.33 414.20,520.40 424.26,531.08 434.32,641.90 444.38,581.78 454.44,569.95 464.50,703.86 474.56,596.78 484.62,634.45 494.68,619.35 504.74,620.71 514.80,605.07 524.86,732.68 534.92,676.96 544.98,711.06 555.05,693.80 565.11,706.67 575.17,752.11 585.23,780.90 595.29,636.70 605.35,769.72 615.41,711.38 625.47,764.62 635.53,665.87 645.59,788.46 655.65,753.28 665.71,762.73 675.77,710.81 685.83,726.25 695.89,611.78 705.95,695.10 716.02,636.91 726.08,647.56 736.14,643.19 746.20,639.34 756.26,637.46 766.32,662.98 776.38,636.62 786.44,592.97 796.50,690.54 806.56,653.05 816.62,584.37 826.68,624.01 836.74,534.06 846.80,505.09 856.86,473.72 866.92,449.21 876.98,453.90 887.05,438.72 897.11,434.36 907.17,426.32 917.23,442.48 927.29,312.52 937.35,411.42 947.41,302.73 957.47,317.04 967.53,261.84 977.59,297.75 987.65,328.50 997.71,312.28 1007.77,340.56 1017.83,239.40 1027.89,266.95 1037.95,261.82 1048.02,248.54 1058.08,268.04 1068.14,253.70 1078.20,202.95 1088.26,178.29 1098.32,222.05 1108.38,212.46 1118.44,211.44 1128.50,212.58"/>
<path d="M132.50,228.83 142.56,198.61 152.62,195.09 162.68,216.51 172.74,206.93 182.80,253.73 192.86,230.45 202.92,220.67 212.98,255.49 223.05,264.32 233.11,286.24 243.17,256.92 253.23,279.59 263.29,199.74 273.35,317.73 283.41,321.15 293.47,376.77 303.53,318.97 313.59,378.38 323.65,376.48 333.71,360.92 343.77,354.40 353.83,436.95 363.89,456.87 373.95,451.48 384.02,429.65 394.08,486.84 404.14,499.86 414.20,493.14 424.26,510.42 434.32,512.58 444.38,642.20 454.44,627.65 464.50,641.66 474.56,596.44 484.62,674.88 494.68,644.69 504.74,631.82 514.80,585.56 524.86,678.17 534.92,679.33 544.98,678.28 555.05,717.40 565.11,822.54 575.17,650.69 585.23,725.68 595.29,743.78 605.35,708.87 615.41,745.06 625.47,688.05 635.53,739.91 645.59,689.46 655.65,728.55 665.71,753.64 675.77,684.89 685.83,615.58 695.89,739.25 705.95,711.56 716.02,731.30 726.08,618.46 736.14,664.27 746.20,746.63 756.26,730.70 766.32,600.62 776.38,612.38 786.44,685.77 796.50,642.54 806.56,567.99 816.62,566.82 826.68,624.02 836.74,509.94 846.80,538.89 856.86,460.15 866.92,474.24 876.98,430.65 887.05,533.45 897.11,415.24 907.17,387.93 917.23,392.20 927.29,438.70 937.35,383.31 947.41,439.13 957.47,374.05 967.53,366.89 977.59,312.33 987.65,230.99 997.71,287.88 1007.77,304.98 1017.83,243.70 1027.89,239.76 1037.95,250.25 1048.02,276.24 1058.08,222.12 1068.14,211.66 1078.20,221.25 1088.26,155.19 1098.32,137.21 1108.38,259.06 1118.44,205.06 1128.50,266.21"/>
<path d="M132.50,240.26 142.56,236.61 152.62,227.04 162.68,157.89 172.74,259.09 182.80,212.85 192.86,208.02 202.92,234.99 212.98,230.31 223.05,284.19 233.11,285.99 243.17,304.24 253.23,371.95 263.29,276.96 273.35,328.33 283.41,332.01 293.47,313.54 303.53,350.59 313.59,370.99 323.65,401.48 333.71,335.61 343.77,406.72 353.83,423.10 363.89,406.43 373.95,445.01 384.02,508.51 394.08,506.58 404.14,536.44 414.20,586.36 424.26,544.65 434.32,531.17 444.38,588.06 454.44,566.38 464.50,568.58 474.56,614.93 484.62,641.58 494.68,662.56 504.74,658.33 514.80,599.78 524.86,665.63 534.92,695.98 544.98,704.17 555.05,692.17 565.11,696.84 575.17,656.94 585.23,728.69 595.29,679.85 605.35,743.55 615.41,713.47 625.47,735.82 635.53,684.81 645.59,669.03 655.65,661.80 665.71,690.88 675.77,731.78 685.83,712.42 695.89,690.42 705.95,773.71 716.02,633.56 726.08,718.88 736.14,686.41 746.20,608.55 756.26,632.33 766.32,618.24 776.38,651.97 786.44,671.11 796.50,626.97 806.56,564.08 816.62,541.44 826.68,551.95 836.74,553.22 846.80,508.49 856.86,530.60 866.92,471.94 876.98,516.86 887.05,389.08 897.11,545.50 907.17,374.10 917.23,436.71 927.29,349.33 937.35,436.62 947.41,379.26 957.47,344.52 967.53,376.75 977.59,345.54 987.65,293.97 997.71,279.89 1007.77,335.54 1017.83,316.55 1027.89,260.88 1037.95,206.15 1048.02,223.24 1058.08,301.47 1068.14,264.90 1078.20,301.64 1088.26,198.16 1098.32,257.12 1108.38,222.13 1118.44,197.22 1128.50,224.72"/>
<path d="M132.50,251.76 142.56,215.86 152.62,271.97 162.68,134.63 172.74,321.96 182.80,149.10 192.86,216.16 202.92,266.15 212.98,241.07 223.05,261.46 233.11,183.69 243.17,195.23 253.23,260.27 263.29,311.31 273.35,306.93 283.41,354.84 293.47,374.78 303.53,363.96 313.59,309.01 323.65,399.56 333.71,386.18 343.77,363.19 353.83,411.61 363.89,423.50 373.95,484.00 384.02,470.70 394.08,528.48 404.14,535.62 414.20,566.65 424.26,555.06 434.32,540.95 444.38,572.30 454.44,619.84 464.50,633.83 474.56,661.27 484.62,608.04 494.68,625.72 504.74,701.15 514.80,722.28 524.86,671.72 534.92,695.91 544.98,732.73 555.05,655.66 565.11,704.29 575.17,708.48 585.23,689.48 595.29,700.85 605.35,732.12 615.41,764.58 625.47,678.15 635.53,787.34 645.59,669.70 655.65,740.16 665.71,638.39 675.77,720.44 685.83,728.54 695.89,700.24 705.95,645.23 716.02,755.46 726.08,690.16 736.14,657.95 746.20,653.23 756.26,643.42 766.32,648.27 776.38,666.71 786.44,502.68 796.50,651.88 806.56,545.90 816.62,610.31 826.68,629.03 836.74,532.66 846.80,443.24 856.86,483.36 866.92,553.04 876.98,500.14 887.05,487.65 897.11,486.63 907.17,388.83 917.23,318.46 927.29,451.44 937.35,350.48 947.41,407.03 957.47,311.18 967.53,330.32 977.59,336.05 987.65,285.86 997.71,217.16 1007.77,235.92 1017.83,285.98 1027.89,240.19 1037.95,300.93 1048.02,235.20 1058.08,207.87 1068.14,220.40 1078.20,254.77 1088.26,229.47 1098.32,246.19 1108.38,205.01 1118.44,231.91 1128.50,228.11"/>
<path d="M132.50,243.57 142.56,179.93 152.62,208.99 162.68,260.24 172.74,218.28 182.80,252.95 192.86,233.83 202.92,173.70 212.98,290.73 223.05,251.34 233.11,322.43 243.17,255.31 253.23,343.61 263.29,364.81 273.35,291.62 283.41,353.68 293.47,413.03 303.53,402.46 313.59,326.19 323.65,374.87 333.71,388.75 343.77,378.27 353.83,420.11 363.89,563.47 373.95,458.59 384.02,527.91 394.08,526.46 404.14,568.59 414.20,508.90 424.26,452.08 434.32,535.23 444.38,495.59 454.44,591.79 464.50,617.38 474.56,581.00 484.62,670.94 494.68,686.04 504.74,759.81 514.80,742.81 524.86,685.74 534.92,673.83 544.98,700.38 555.05,766.77 565.11,745.35 575.17,737.51 585.23,678.76 595.29,704.79 605.35,750.95 615.41,782.69 625.47,729.05 635.53,789.81 645.59,746.93 655.65,731.36 665.71,670.58 675.77,678.90 685.83,700.03 695.89,709.94 705.95,713.35 716.02,664.45 726.08,731.15 736.14,682.44 746.20,612.35 756.26,678.49 766.32,693.68 776.38,623.64 786.44,599.53 796.50,532.70 806.56,617.28 816.62,588.38 826.68,506.79 836.74,548.46 846.80,511.35 856.86,489.36 866.92,442.70 876.98,440.69 887.05,460.87 897.11,492.07 907.17,430.60 917.23,384.06 927.29,348.41 937.35,356.41 947.41,424.25 957.47,347.71 967.53,381.35 977.59,343.38 987.65,354.11 997.71,236.15 1007.77,296.16 1017.83,208.31 1027.89,334.44 1037.95,289.21 1048.02,221.43 1058.08,264.21 1068.14,162.78 1078.20,256.86 1088.26,309.17 1098.32,227.72 1108.38,236.72 1118.44,225.43 1128.50,250.86"/>
<path d="M132.50,245.58 142.56,250.12 152.62,237.08 162.68,267.60 172.74,185.66 182.80,265.45 192.86,189.44 202.92,299.01 212.98,219.65 223.05,282.41 233.11,263.73 243.17,249.71 253.23,323.82 263.29,291.63 273.35,314.34 283.41,367.57 293.47,316.89 303.53,439.34 313.59,308.51 323.65,336.36 333.71,404.21 343.77,428.30 353.83,414.52 363.89,461.73 373.95,466.70 384.02,466.62 394.08,494.81 404.14,442.56 414.20,535.50 424.26,571.38 434.32,596.33 444.38,589.87 454.44,619.80 464.50,561.43 474.56,601.32 484.62,627.62 494.68,635.02 504.74,682.03 514.80,570.08 524.86,638.55 534.92,648.94 544.98,680.74 555.05,688.92 565.11,676.20 575.17,691.33 585.23,683.25 595.29,733.50 605.35,671.75 615.41,777.37 625.47,653.86 635.53,725.87 645.59,713.95 655.65,721.93 665.71,748.53 675.77,730.31 685.83,650.50 695.89,623.52 705.95,734.81 716.02,673.76 726.08,698.83 736.14,665.66 746.20,645.65 756.26,667.32 766.32,625.22 776.38,560.72 786.44,651.46 796.50,612.11 806.56,571.81 816.62,554.41 826.68,551.04 836.74,525.26 846.80,529.04 856.86,499.94 866.92,493.83 876.98,440.71 887.05,432.51 897.11,444.13 907.17,378.05 917.23,405.55 927.29,374.75 937.35,372.91 947.41,389.90 957.47,324.77 967.53,408.49 977.59,361.91 987.65,288.97 997.71,253.78 1007.77,346.08 1017.83,233.93 1027.89,319.05 1037.95,282.15 1048.02,301.61 1058.08,251.00 1068.14,235.87 1078.20,216.71 1088.26,243.70 1098.32,224.99 1108.38,210.29 1118.44,256.91 1128.50,246.16"/>
<path d="M132.50,167.68 142.56,331.66 152.62,185.65 162.68,184.24 172.74,176.78 182.80,247.42 192.86,206.02 202.92,235.99 212.98,275.52 223.05,238.78 233.11,254.72 243.17,293.24 253.23,306.57 263.29,310.62 273.35,293.73 283.41,327.33 293.47,389.68 303.53,340.83 313.59,380.63 323.65,352.79 333.71,442.21 343.77,484.01 353.83,446.40 363.89,467.46 373.95,433.81 384.02,545.84 394.08,531.57 404.14,511.86 414.20,550.62 424.26,545.56 434.32,598.81 444.38,599.61 454.44,617.73 464.50,662.91 474.56,596.21 484.62,644.09 494.68,657.04 504.74,605.94 514.80,633.61 524.86,695.25 534.92,645.33 544.98,701.47 555.05,711.21 565.11,695.51 575.17,702.42 585.23,716.77 595.29,726.23 605.35,704.64 615.41,684.24 625.47,737.64 635.53,667.98 645.59,753.27 655.65,644.20 665.71,685.76 675.77,726.35 685.83,787.95 695.89,716.82 705.95,708.05 716.02,632.64 726.08,664.34 736.14,737.80 746.20,648.52 756.26,683.37 766.32,700.25 776.38,588.99 786.44,587.96 796.50,612.20 806.56,528.78 816.62,580.29 826.68,617.20 836.74,503.97 846.80,548.30 856.86,501.92 866.92,526.08 876.98,524.52 887.05,442.67 897.11,477.33 907.17,448.05 917.23,384.66 927.29,493.30 937.35,416.88 947.41,309.06 957.47,352.68 967.53,402.17 977.59,327.22 987.65,310.94 997.71,329.87 1007.77,315.07 1017.83,280.04 1027.89,237.00 1037.95,291.40 1048.02,224.41 1058.08,314.60 1068.14,162.59 1078.20,203.16 1088.26,251.26 1098.32,228.16 1108.38,268.24 1118.44,255.41 1128.50,208.47"/>
<path d="M132.50,297.62 142.56,194.65 152.62,190.16 162.68,219.63 172.74,257.51 182.80,208.35 192.86,245.39 202.92,177.11 212.98,232.44 223.05,189.45 233.11,291.70 243.17,235.05 253.23,252.63 263.29,276.54 273.35,245.77 283.41,280.89 293.47,297.11 303.53,300.51 313.59,393.85 323.65,355.52 333.71,348.74 343.77,482.64 353.83,380.51 363.89,484.07 373.95,514.96 384.02,479.17 394.08,555.96 404.14,536.33 414.20,490.84 424.26,535.20 434.32,505.09 444.38,558.09 454.44,647.61 464.50,640.48 474.56,604.64 484.62,639.79 494.68,601.83 504.74,642.10 514.80,700.68 524.86,689.78 534.92,640.09 544.98,722.85 555.05,751.55 565.11,680.46 575.17,700.83 585.23,742.78 595.29,718.46 605.35,713.94 615.41,750.69 625.47,709.01 635.53,748.95 645.59,734.71 655.65,691.70 665.71,727.49 675.77,775.73 685.83,717.70 695.89,765.95 705.95,714.81 716.02,711.21 726.08,558.73 736.14,650.53 746.20,642.13 756.26,640.24 766.32,656.03 776.38,724.71 786.44,542.25 796.50,616.58 806.56,615.56 816.62,592.28 826.68,513.02 836.74,510.20 846.80,472.95 856.86,496.56 866.92,495.58 876.98,484.74 887.05,518.10 897.11,433.62 907.17,440.34 917.23,426.44 927.29,356.87 937.35,335.80 947.41,274.18 957.47,334.93 967.53,342.23 977.59,359.64 987.65,313.91 997.71,235.65 1007.77,298.12 1017.83,214.08 1027.89,277.10 1037.95,251.70 1048.02,157.81 1058.08,243.10 1068.14,292.55 1078.20,257.69 1088.26,267.65 1098.32,220.86 1108.38,243.32 1118.44,205.94 1128.50,158.42"/>
<path d="M132.50,256.55 142.56,258.26 152.62,231.40 162.68,190.93 172.74,213.57 182.80,228.32 192.86,178.40 202.92,254.26 212.98,181.68 223.05,316.65 233.11,258.09 243.17,244.44 253.23,246.24 263.29,355.40 273.35,336.29 283.41,398.27 293.47,347.67 303.53,371.36 313.59,329.51 323.65,365.83 333.71,407.77 343.77,360.57 353.83,433.06 363.89,393.76 373.95,434.17 384.02,450.33 394.08,457.02 404.14,530.53 414.20,576.10 424.26,507.77 434.32,602.69 444.38,602.61 454.44,591.28 464.50,575.79 474.56,587.67 484.62,692.96 494.68,626.85 504.74,714.64 514.80,573.87 524.86,704.66 534.92,614.87 544.98,699.96 555.05,671.51 565.11,732.09 575.17,703.33 585.23,689.76 595.29,659.05 605.35,743.41 615.41,780.80 625.47,769.03 635.53,718.02 645.59,711.97 655.65,730.13 665.71,714.84 675.77,724.43 685.83,723.63 695.89,617.02 705.95,691.66 716.02,640.99 726.08,579.72 736.14,719.09 746.20,664.01 756.26,647.89 766.32,590.55 776.38,636.07 786.44,598.81 796.50,590.25 806.56,568.88 816.62,592.75 826.68,456.39 836.74,581.39 846.80,534.52 856.86,491.40 866.92,474.95 876.98,519.42 887.05,465.00 897.11,496.22 907.17,392.99 917.23,446.69 927.29,439.10 937.35,381.73 947.41,414.19 957.47,344.45 967.53,359.62 977.59,349.07 987.65,372.85 997.71,394.05 1007.77,247.31 1017.83,212.12 1027.89,221.27 1037.95,262.72 1048.02,245.88 1058.08,230.74 1068.14,250.45 1078.20,213.67 1088.26,196.44 1098.32,188.48 1108.38,177.74 1118.44,236.10 1128.50,207.07"/>
<path d="M132.50,223.71 142.56,268.78 152.62,255.99 162.68,234.96 172.74,217.70 182.80,186.06 192.86,206.72 202.92,291.21 212.98,228.75 223.05,293.94 233.11,234.71 243.17,314.56 253.23,336.04 263.29,297.51 273.35,343.34 283.41,285.17 293.47,378.24 303.53,333.00 313.59,329.58 323.65,394.78 333.71,379.55 343.77,434.38 353.83,470.50 363.89,531.53 373.95,494.30 384.02,460.38 394.08,488.44 404.14,546.98 414.20,525.76 424.26,629.53 434.32,523.04 444.38,601.33 454.44,587.75 464.50,581.58 474.56,642.76 484.62,568.32 494.68,624.48 504.74,631.57 514.80,628.22 524.86,634.31 534.92,657.98 544.98,597.74 555.05,717.69 565.11,642.89 575.17,758.82 585.23,731.88 595.29,734.77 605.35,753.64 615.41,717.67 625.47,698.25 635.53,753.74 645.59,708.18 655.65,695.84 665.71,713.03 675.77,742.95 685.83,749.33 695.89,733.93 705.95,675.33 716.02,619.90 726.08,701.18 736.14,613.52 746.20,697.97 756.26,669.36 766.32,638.96 776.38,639.90 786.44,603.94 796.50,565.59 806.56,543.53 816.62,539.73 826.68,610.41 836.74,560.64 846.80,536.17 856.86,480.94 866.92,550.34 876.98,500.88 887.05,434.22 897.11,407.36 907.17,416.63 917.23,348.41 927.29,487.71 937.35,372.83 947.41,369.35 957.47,390.28 967.53,359.79 977.59,316.28 987.65,266.84 997.71,291.06 1007.77,264.59 1017.83,313.62 1027.89,285.48 1037.95,261.13 1048.02,246.04 1058.08,224.15 1068.14,244.73 1078.20,203.33 1088.26,217.79 1098.32,275.42 1108.38,208.17 1118.44,284.68 1128.50,243.70"/>
<path d="M132.50,208.74 142.56,269.41 152.62,226.03 162.68,227.76 172.74,232.39 182.80,265.60 192.86,215.07 202.92,217.06 212.98,266.19 223.05,243.49 233.11,300.29 243.17,277.71 253.23,260.52 263.29,291.31 273.35,307.32 283.41,274.76 293.47,366.92 303.53,323.17 313.59,358.17 323.65,409.30 333.71,399.25 343.77,426.18 353.83,402.58 363.89,427.91 373.95,528.46 384.02,413.08 394.08,571.74 404.14,481.18 414.20,551.09 424.26,498.00 434.32,538.61 444.38,516.22 454.44,589.75 464.50,688.80 474.56,619.42 484.62,619.67 494.68,590.11 504.74,692.01 514.80,668.87 524.86,686.23 534.92,621.74 544.98,748.40 555.05,654.96 565.11,658.13 575.17,712.03 585.23,680.43 595.29,697.43 605.35,746.70 615.41,747.99 625.47,799.10 635.53,663.09 645.59,672.82 655.65,671.80 665.71,717.32 675.77,734.66 685.83,770.13 695.89,723.47 705.95,729.18 716.02,738.70 726.08,666.90 736.14,686.91 746.20,641.97 756.26,677.05 766.32,558.29 776.38,526.10 786.44,554.06 796.50,600.88 806.56,558.60 816.62,621.51 826.68,603.94 836.74,555.20 846.80,459.03 856.86,515.54 866.92,456.39 876.98,477.16 887.05,472.42 897.11,435.89 907.17,432.60 917.23,357.10 927.29,446.44 937.35,377.39 947.41,367.74 957.47,357.58 967.53,362.82 977.59,298.28 987.65,368.39 997.71,272.13 1007.77,371.85 1017.83,219.95 1027.89,242.20 1037.95,257.70 1048.02,343.07 1058.08,247.37 1068.14,265.59 1078.20,188.19 1088.26,289.38 1098.32,285.13 1108.38,230.20 1118.44,222.29 1128.50,243.38"/>
<path d="M132.50,226.66 142.56,230.13 152.62,241.56 162.68,249.73 172.74,233.68 182.80,195.68 192.86,167.40 202.92,205.67 212.98,249.72 223.05,305.00 233.11,234.37 243.17,223.39 253.23,296.18 263.29,307.76 273.35,265.73 283.41,318.35 293.47,252.94 303.53,354.42 313.59,427.75 323.65,341.58 333.71,382.94 343.77,422.02 353.83,475.00 363.89,410.33 373.95,436.96 384.02,465.04 394.08,432.62 404.14,547.25 414.20,515.02 424.26,547.74 434.32,534.14 444.38,551.79 454.44,587.45 464.50,653.63 474.56,608.88 484.62,567.81 494.68,710.21 504.74,668.12 514.80,639.83 524.86,710.33 534.92,717.26 544.98,725.36 555.05,724.47 565.11,688.22 575.17,632.30 585.23,691.80 595.29,747.22 605.35,740.76 615.41,762.73 625.47,749.94 635.53,748.91 645.59,668.42 655.65,695.55 665.71,781.54 675.77,681.53 685.83,659.39 695.89,710.52 705.95,643.65 716.02,674.29 726.08,654.30 736.14,681.19 746.20,604.46 756.26,645.76 766.32,646.24 776.38,606.06 786.44,614.84 796.50,606.76 806.56,555.62 816.62,576.09 826.68,569.54 836.74,558.81 846.80,575.29 856.86,446.45 866.92,515.88 876.98,489.65 887.05,456.05 897.11,467.91 907.17,503.71 917.23,395.05 927.29,376.84 937.35,390.80 947.41,387.33 957.47,382.81 967.53,264.89 977.59,336.56 987.65,313.99 997.71,296.54 1007.77,297.91 1017.83,188.36 1027.89,269.13 1037.95,300.74 1048.02,239.60 1058.08,202.77 1068.14,276.18 1078.20,169.20 1088.26,217.38 1098.32,231.11 1108.38,188.99 1118.44,273.15 1128.50,163.76"/>
<path d="M132.50,242.03 142.56,253.61 152.62,241.63 162.68,223.08 172.74,263.49 182.80,326.57 192.86,232.22 202.92,211.72 212.98,259.36 223.05,244.59 233.11,239.97 243.17,315.00 253.23,224.89 263.29,331.38 273.35,310.75 283.41,256.73 293.47,329.83 303.53,353.56 313.59,409.63 323.65,425.19 333.71,417.25 343.77,428.35 353.83,364.87 363.89,464.67 373.95,502.56 384.02,448.52 394.08,485.19 404.14,502.83 414.20,466.40 424.26,499.73 434.32,509.27 444.38,577.73 454.44,589.33 464.50,600.27 474.56,641.86 484.62,668.56 494.68,621.22 504.74,654.61 514.80,658.73 524.86,624.43 534.92,704.53 544.98,613.06 555.05,711.61 565.11,672.32 575.17,750.54 585.23,702.40 595.29,745.54 605.35,747.58 615.41,769.18 625.47,723.42 635.53,694.07 645.59,728.25 655.65,729.75 665.71,732.72 675.77,686.70 685.83,668.08 695.89,784.60 705.95,713.91 716.02,653.95 726.08,620.10 736.14,647.26 746.20,663.75 756.26,624.85 766.32,627.85 776.38,603.81 786.44,593.23 796.50,540.34 806.56,569.70 816.62,583.56 826.68,514.96 836.74,568.57 846.80,534.07 856.86,597.72 866.92,483.92 876.98,451.49 887.05,524.33 897.11,347.59 907.17,462.78 917.23,460.74 927.29,409.02 937.35,370.21 947.41,383.39 957.47,333.72 967.53,372.26 977.59,297.75 987.65,307.86 997.71,229.29 1007.77,274.88 1017.83,280.25 1027.89,263.56 1037.95,238.87 1048.02,281.94 1058.08,282.13 1068.14,205.33 1078.20,229.08 1088.26,283.69 1098.32,260.67 1108.38,217.81 1118.44,175.77 1128.50,212.43"/>
<path d="M132.50,219.97 142.56,237.65 152.62,249.06 162.68,248.36 172.74,211.00 182.80,254.30 192.86,230.69 202.92,255.46 212.98,245.41 223.05,221.15 233.11,238.56 243.17,280.23 253.23,326.65 263.29,278.85 273.35,307.53 283.41,363.55 293.47,300.76 303.53,319.41 313.59,392.93 323.65,280.30 333.71,515.06 343.77,387.60 353.83,445.75 363.89,436.14 373.95,498.93 384.02,484.57 394.08,514.40 404.14,488.32 414.20,505.59 424.26,510.78 434.32,538.51 444.38,571.76 454.44,586.66 464.50,526.76 474.56,578.54 484.62,625.91 494.68,579.43 504.74,630.77 514.80,662.57 524.86,707.60 534.92,665.46 544.98,667.65 555.05,719.08 565.11,739.47 575.17,757.90 585.23,745.68 595.29,676.30 605.35,702.07 615.41,756.76 625.47,782.47 635.53,827.84 645.59,757.11 655.65,701.70 665.71,761.83 675.77,701.19 685.83,642.34 695.89,783.43 705.95,699.45 716.02,723.99 726.08,642.39 736.14,668.88 746.20,645.44 756.26,641.14 766.32,627.36 776.38,611.24 786.44,647.36 796.50,548.73 806.56,525.32 816.62,574.20 826.68,560.44 836.74,607.82 846.80,516.59 856.86,592.15 866.92,498.91 876.98,531.49 887.05,489.74 897.11,449.57 907.17,407.77 917.23,359.06 927.29,412.68 937.35,389.53 947.41,375.49 957.47,371.05 967.53,350.25 977.59,298.43 987.65,246.36 997.71,241.38 1007.77,293.53 1017.83,256.46 1027.89,290.73 1037.95,316.54 1048.02,231.87 1058.08,230.25 1068.14,177.44 1078.20,238.81 1088.26,292.45 1098.32,213.50 1108.38,278.92 1118.44,262.37 1128.50,237.14"/>
<path d="M132.50,236.70 142.56,272.18 152.62,182.15 162.68,212.72 172.74,262.44 182.80,264.16 192.86,284.04 202.92,230.86 212.98,218.20 223.05,276.77 233.11,230.27 243.17,290.61 253.23,279.47 263.29,258.46 273.35,341.79 283.41,321.11 293.47,318.59 303.53,368.44 313.59,361.17 323.65,366.44 333.71,351.86 343.77,377.30 353.83,442.51 363.89,420.42 373.95,400.73 384.02,499.03 394.08,437.68 404.14,558.84 414.20,556.68 424.26,533.17 434.32,617.91 444.38,556.42 454.44,663.45 464.50,625.12 474.56,646.59 484.62,588.42 494.68,677.56 504.74,598.84 514.80,689.45 524.86,681.83 534.92,709.83 544.98,646.54 555.05,745.05 565.11,673.87 575.17,670.87 585.23,726.93 595.29,765.81 605.35,692.37 615.41,758.38 625.47,756.26 635.53,748.67 645.59,757.02 655.65,657.15 665.71,693.54 675.77,699.93 685.83,729.47 695.89,662.14 705.95,733.29 716.02,695.10 726.08,636.91 736.14,704.31 746.20,657.40 756.26,676.82 766.32,650.69 776.38,625.70 786.44,617.78 796.50,560.65 806.56,559.41 816.62,537.64 826.68,521.65 836.74,488.09 846.80,514.26 856.86,482.44 866.92,504.10 876.98,479.67 887.05,439.11 897.11,456.16 907.17,441.74 917.23,401.69 927.29,338.63 937.35,434.04 947.41,384.58 957.47,338.08 967.53,326.60 977.59,378.75 987.65,340.57 997.71,342.92 1007.77,290.93 1017.83,228.99 1027.89,268.75 1037.95,267.64 1048.02,166.39 1058.08,267.00 1068.14,233.43 1078.20,244.90 1088.26,262.00 1098.32,201.38 1108.38,241.46 1118.44,188.11 1128.50,235.10"/>
</g>
<g stroke="#F8766D" stroke-opacity="0.5" stroke-width="2.76" fill="none" stroke-linejoin="round">
<path d="M132.50,728.25 142.56,748.53 152.62,725.02 162.68,693.38 172.74,777.84 182.80,735.20 192.86,681.69 202.92,728.88 212.98,645.13 223.05,715.52 233.11,704.68 243.17,675.56 253.23,672.19 263.29,666.40 273.35,636.05 283.41,625.05 293.47,710.19 303.53,600.51 313.59,580.68 323.65,654.80 333.71,692.46 343.77,678.02 353.83,683.27 363.89,594.34 373.95,576.98 384.02,540.20 394.08,578.53 404.14,550.81 414.20,601.60 424.26,612.97 434.32,560.32 444.38,552.61 454.44,638.50 464.50,519.77 474.56,573.22 484.62,549.23 494.68,578.18 504.74,510.82 514.80,543.74 524.86,578.31 534.92,508.68 544.98,576.69 555.05,516.60 565.11,503.61 575.17,397.29 585.23,474.89 595.29,537.15 605.35,469.80 615.41,482.65 625.47,465.52 635.53,529.74 645.59,400.24 655.65,437.53 665.71,467.72 675.77,524.95 685.83,428.33 695.89,490.98 705.95,477.80 716.02,407.63 726.08,395.28 736.14,432.22 746.20,474.85 756.26,496.59 766.32,455.52 776.38,423.90 786.44,429.26 796.50,375.30 806.56,413.26 816.62,359.43 826.68,327.07 836.74,383.92 846.80,413.09 856.86,401.66 866.92,323.15 876.98,405.55 887.05,281.22 897.11,326.07 907.17,295.36 917.23,354.29 927.29,345.55 937.35,299.42 947.41,318.33 957.47,283.91 967.53,308.12 977.59,302.85 987.65,224.42 997.71,267.22 1007.77,368.51 1017.83,248.54 1027.89,296.28 1037.95,263.99 1048.02,209.28 1058.08,191.45 1068.14,324.82 1078.20,302.68 1088.26,223.51 1098.32,259.22 1108.38,247.83 1118.44,178.39 1128.50,237.12"/>
<path d="M132.50,766.95 142.56,729.15 152.62,683.68 162.68,698.58 172.74,674.11 182.80,764.25 192.86,688.01 202.92,661.20 212.98,630.23 223.05,780.41 233.11,701.61 243.17,636.49 253.23,642.13 263.29,643.38 273.35,712.31 283.41,658.84 293.47,723.15 303.53,635.77 313.59,668.87 323.65,680.66 333.71,614.85 343.77,547.29 353.83,670.87 363.89,638.97 373.95,608.30 384.02,622.50 394.08,630.14 404.14,562.64 414.20,618.59 424.26,581.60 434.32,533.43 444.38,551.67 454.44,620.85 464.50,505.69 474.56,529.73 484.62,536.74 494.68,544.82 504.74,567.48 514.80,560.91 524.86,560.68 534.92,572.13 544.98,494.41 555.05,560.75 565.11,488.56 575.17,531.34 585.23,461.36 595.29,450.05 605.35,483.22 615.41,464.01 625.47,463.41 635.53,521.86 645.59,433.31 655.65,429.34 665.71,487.78 675.77,486.02 685.83,429.66 695.89,479.25 705.95,426.56 716.02,404.15 726.08,433.14 736.14,423.34 746.20,438.71 756.26,419.48 766.32,424.20 776.38,301.95 786.44,369.81 796.50,344.88 806.56,400.10 816.62,385.10 826.68,268.56 836.74,398.44 846.80,386.27 856.86,362.28 866.92,310.17 876.98,460.03 887.05,264.19 897.11,377.88 907.17,377.81 917.23,339.36 927.29,296.50 937.35,348.41 947.41,381.99 957.47,324.60 967.53,288.64 977.59,263.29 987.65,247.85 997.71,302.15 1007.77,225.48 1017.83,230.41 1027.89,287.97 1037.95,230.99 1048.02,220.49 1058.08,307.42 1068.14,192.74 1078.20,248.06 1088.26,221.07 1098.32,238.24 1108.38,255.94 1118.44,167.18 1128.50,170.11"/>
<path d="M132.50,763.27 142.56,718.42 152.62,692.40 162.68,775.01 172.74,719.56 182.80,679.43 192.86,705.48 202.92,764.47 212.98,738.23 223.05,711.99 233.11,665.50 243.17,735.57 253.23,643.03 263.29,616.68 273.35,673.07 283.41,611.03 293.47,604.85 303.53,637.14 313.59,644.99 323.65,633.50 333.71,692.10 343.77,595.01 353.83,598.42 363.89,611.77 373.95,703.51 384.02,584.80 394.08,569.41 404.14,618.66 414.20,542.50 424.26,553.72 434.32,615.25 444.38,601.51 454.44,568.58 464.50,592.55 474.56,589.56 484.62,493.69 494.68,583.54 504.74,524.99 514.80,588.56 524.86,524.94 534.92,498.16 544.98,472.57 555.05,551.67 565.11,532.47 575.17,465.45 585.23,471.90 595.29,499.98 605.35,482.19 615.41,497.38 625.47,446.93 635.53,455.60 645.59,467.21 655.65,490.50 665.71,443.03 675.77,459.33 685.83,513.21 695.89,474.32 705.95,496.85 716.02,392.88 726.08,365.88 736.14,329.08 746.20,332.21 756.26,436.17 766.32,449.97 776.38,421.18 786.44,344.51 796.50,424.94 806.56,409.09 816.62,405.45 826.68,382.65 836.74,342.20 846.80,419.09 856.86,357.75 866.92,418.07 876.98,307.69 887.05,309.14 897.11,326.58 907.17,340.25 917.23,287.78 927.29,298.06 937.35,360.47 947.41,216.12 957.47,330.00 967.53,339.65 977.59,279.50 987.65,280.77 997.71,280.06 1007.77,334.63 1017.83,272.13 1027.89,255.91 1037.95,180.77 1048.02,289.86 1058.08,227.35 1068.14,282.59 1078.20,233.72 1088.26,276.30 1098.32,310.34 1108.38,316.93 1118.44,192.05 1128.50,216.83"/>
<path d="M132.50,708.36 142.56,795.57 152.62,718.22 162.68,703.95 172.74,640.25 182.80,723.81 192.86,662.20 202.92,688.40 212.98,647.14 223.05,670.91 233.11,666.19 243.17,673.22 253.23,658.59 263.29,653.58 273.35,658.22 283.41,652.21 293.47,609.49 303.53,643.51 313.59,662.94 323.65,629.89 333.71,669.10 343.77,551.30 353.83,516.85 363.89,606.95 373.95,600.65 384.02,632.88 394.08,579.15 404.14,548.69 414.20,551.12 424.26,575.79 434.32,522.92 444.38,498.65 454.44,572.01 464.50,539.05 474.56,506.51 484.62,555.84 494.68,534.91 504.74,576.58 514.80,562.97 524.86,614.82 534.92,545.63 544.98,534.43 555.05,469.18 565.11,545.65 575.17,502.47 585.23,509.87 595.29,503.56 605.35,478.78 615.41,422.22 625.47,517.47 635.53,443.22 645.59,489.86 655.65,501.22 665.71,421.53 675.77,496.90 685.83,479.24 695.89,400.09 705.95,437.22 716.02,368.44 726.08,320.78 736.14,410.43 746.20,384.14 756.26,403.49 766.32,423.92 776.38,424.70 786.44,351.89 796.50,359.91 806.56,364.54 816.62,343.72 826.68,414.97 836.74,408.53 846.80,356.17 856.86,336.53 866.92,308.42 876.98,291.03 887.05,334.81 897.11,378.16 907.17,376.91 917.23,362.92 927.29,268.73 937.35,301.01 947.41,254.95 957.47,331.80 967.53,303.00 977.59,271.91 987.65,277.39 997.71,330.14 1007.77,336.78 1017.83,367.90 1027.89,245.99 1037.95,242.90 1048.02,260.59 1058.08,178.48 1068.14,239.77 1078.20,263.85 1088.26,195.87 1098.32,197.05 1108.38,256.53 1118.44,222.20 1128.50,186.21"/>
<path d="M132.50,687.01 142.56,722.84 152.62,761.25 162.68,644.96 172.74,697.41 182.80,715.01 192.86,703.97 202.92,703.77 212.98,746.69 223.05,683.62 233.11,634.75 243.17,580.73 253.23,682.13 263.29,663.96 273.35,626.94 283.41,652.96 293.47,661.83 303.53,649.08 313.59,623.00 323.65,710.93 333.71,645.50 343.77,611.27 353.83,592.18 363.89,643.01 373.95,623.50 384.02,659.50 394.08,573.27 404.14,561.77 414.20,583.38 424.26,574.44 434.32,665.22 444.38,511.99 454.44,571.69 464.50,577.78 474.56,549.34 484.62,522.26 494.68,480.53 504.74,520.17 514.80,572.21 524.86,527.66 534.92,515.53 544.98,508.31 555.05,472.27 565.11,507.63 575.17,528.76 585.23,441.62 595.29,385.48 605.35,495.34 615.41,443.45 625.47,432.99 635.53,434.03 645.59,479.01 655.65,433.51 665.71,407.20 675.77,335.63 685.83,428.26 695.89,435.56 705.95,468.98 716.02,427.59 726.08,396.37 736.14,392.81 746.20,447.05 756.26,407.58 766.32,443.55 776.38,382.26 786.44,389.09 796.50,341.57 806.56,376.67 816.62,339.27 826.68,349.90 836.74,399.15 846.80,418.30 856.86,358.47 866.92,269.00 876.98,317.97 887.05,321.93 897.11,312.46 907.17,282.85 917.23,262.72 927.29,284.96 937.35,267.52 947.41,272.13 957.47,253.12 967.53,257.35 977.59,356.30 987.65,319.23 997.71,294.80 1007.77,281.47 1017.83,201.51 1027.89,255.82 1037.95,225.19 1048.02,270.60 1058.08,248.21 1068.14,256.95 1078.20,251.02 1088.26,172.50 1098.32,223.31 1108.38,216.08 1118.44,226.36 1128.50,242.31"/>
<path d="M132.50,730.54 142.56,763.65 152.62,713.47 162.68,736.11 172.74,657.69 182.80,640.49 192.86,736.57 202.92,736.15 212.98,700.54 223.05,679.41 233.11,667.24 243.17,636.87 253.23,700.25 263.29,647.52 273.35,675.85 283.41,669.39 293.47,620.85 303.53,631.81 313.59,604.63 323.65,657.41 333.71,617.97 343.77,622.89 353.83,572.45 363.89,607.05 373.95,630.99 384.02,568.70 394.08,570.92 404.14,554.89 414.20,574.14 424.26,607.11 434.32,626.47 444.38,523.80 454.44,524.95 464.50,553.71 474.56,640.47 484.62,548.63 494.68,509.01 504.74,553.39 514.80,517.99 524.86,563.83 534.92,500.20 544.98,564.75 555.05,530.25 565.11,457.70 575.17,507.64 585.23,440.55 595.29,475.30 605.35,437.52 615.41,481.44 625.47,448.14 635.53,448.63 645.59,478.07 655.65,398.36 665.71,419.90 675.77,479.55 685.83,398.46 695.89,456.36 705.95,531.98 716.02,436.47 726.08,457.98 736.14,433.32 746.20,435.58 756.26,500.00 766.32,421.66 776.38,361.26 786.44,456.11 796.50,332.69 806.56,324.63 816.62,413.01 826.68,285.58 836.74,408.59 846.80,356.60 856.86,371.82 866.92,304.32 876.98,394.08 887.05,359.12 897.11,392.78 907.17,299.89 917.23,304.84 927.29,326.23 937.35,346.62 947.41,347.92 957.47,302.65 967.53,353.81 977.59,218.30 987.65,332.45 997.71,288.57 1007.77,303.34 1017.83,285.40 1027.89,273.55 1037.95,245.03 1048.02,291.58 1058.08,291.94 1068.14,220.46 1078.20,169.20 1088.26,212.89 1098.32,218.18 1108.38,222.74 1118.44,221.87 1128.50,292.49"/>
<path d="M132.50,701.30 142.56,736.84 152.62,701.48 162.68,650.94 172.74,707.80 182.80,675.56 192.86,719.20 202.92,634.22 212.98,628.32 223.05,648.00 233.11,641.97 243.17,655.80 253.23,647.67 263.29,637.93 273.35,658.16 283.41,667.46 293.47,653.03 303.53,616.51 313.59,645.96 323.65,699.03 333.71,593.34 343.77,607.27 353.83,636.60 363.89,614.84 373.95,585.64 384.02,533.74 394.08,550.32 404.14,608.55 414.20,487.54 424.26,526.55 434.32,551.96 444.38,551.01 454.44,578.93 464.50,534.71 474.56,524.99 484.62,549.60 494.68,522.49 504.74,567.43 514.80,485.52 524.86,528.06 534.92,588.57 544.98,531.68 555.05,499.14 565.11,481.41 575.17,542.87 585.23,492.02 595.29,492.90 605.35,501.99 615.41,514.78 625.47,525.14 635.53,460.18 645.59,505.52 655.65,488.49 665.71,424.23 675.77,467.86 685.83,431.64 695.89,399.51 705.95,425.34 716.02,425.16 726.08,445.71 736.14,446.78 746.20,445.50 756.26,394.38 766.32,472.96 776.38,381.76 786.44,436.93 796.50,380.97 806.56,334.57 816.62,357.82 826.68,382.46 836.74,355.22 846.80,424.54 856.86,377.79 866.92,361.99 876.98,447.95 887.05,275.07 897.11,324.21 907.17,291.97 917.23,327.22 927.29,303.10 937.35,244.27 947.41,310.17 957.47,294.35 967.53,280.46 977.59,281.57 987.65,266.67 997.71,294.68 1007.77,292.46 1017.83,319.26 1027.89,283.14 1037.95,281.17 1048.02,282.11 1058.08,236.15 1068.14,239.09 1078.20,286.00 1088.26,256.05 1098.32,225.29 1108.38,216.72 1118.44,220.48 1128.50,242.58"/>
<path d="M132.50,659.65 142.56,700.52 152.62,735.72 162.68,660.71 172.74,718.32 182.80,633.74 192.86,691.27 202.92,727.15 212.98,665.55 223.05,630.57 233.11,702.52 243.17,706.15 253.23,651.29 263.29,726.19 273.35,664.12 283.41,668.37 293.47,616.68 303.53,706.06 313.59,688.88 323.65,636.35 333.71,654.87 343.77,602.01 353.83,621.28 363.89,627.55 373.95,546.16 384.02,673.97 394.08,500.35 404.14,576.97 414.20,608.01 424.26,617.18 434.32,610.65 444.38,538.33 454.44,521.90 464.50,581.55 474.56,507.88 484.62,536.47 494.68,563.54 504.74,484.61 514.80,501.25 524.86,571.48 534.92,487.82 544.98,464.04 555.05,517.45 565.11,526.66 575.17,469.10 585.23,435.71 595.29,506.07 605.35,467.51 615.41,410.63 625.47,483.00 635.53,482.42 645.59,489.05 655.65,499.45 665.71,504.70 675.77,426.04 685.83,454.37 695.89,491.62 705.95,413.83 716.02,450.91 726.08,487.68 736.14,443.09 746.20,453.20 756.26,410.79 766.32,374.44 776.38,360.15 786.44,374.14 796.50,416.63 806.56,364.07 816.62,418.01 826.68,345.40 836.74,373.29 846.80,377.36 856.86,333.81 866.92,338.46 876.98,419.36 887.05,416.65 897.11,258.68 907.17,324.49 917.23,275.41 927.29,267.62 937.35,318.86 947.41,360.33 957.47,359.93 967.53,391.93 977.59,236.57 987.65,293.64 997.71,252.84 1007.77,288.43 1017.83,228.01 1027.89,259.27 1037.95,253.78 1048.02,270.66 1058.08,258.60 1068.14,215.25 1078.20,347.03 1088.26,272.32 1098.32,276.61 1108.38,244.71 1118.44,262.72 1128.50,193.96"/>
<path d="M132.50,674.84 142.56,682.83 152.62,671.77 162.68,675.54 172.74,669.88 182.80,734.65 192.86,759.86 202.92,606.29 212.98,705.22 223.05,613.67 233.11,733.21 243.17,672.87 253.23,666.82 263.29,650.48 273.35,687.75 283.41,658.71 293.47,610.97 303.53,638.66 313.59,652.86 323.65,643.84 333.71,527.03 343.77,641.88 353.83,586.96 363.89,557.56 373.95,641.26 384.02,609.65 394.08,575.08 404.14,539.81 414.20,537.68 424.26,578.02 434.32,556.67 444.38,557.98 454.44,550.25 464.50,562.31 474.56,620.19 484.62,555.28 494.68,529.05 504.74,520.44 514.80,530.88 524.86,509.24 534.92,528.86 544.98,579.79 555.05,516.49 565.11,509.25 575.17,588.98 585.23,459.74 595.29,530.80 605.35,460.89 615.41,469.78 625.47,510.50 635.53,459.63 645.59,415.53 655.65,451.66 665.71,464.39 675.77,446.92 685.83,455.28 695.89,498.09 705.95,427.11 716.02,462.98 726.08,482.53 736.14,491.30 746.20,427.14 756.26,383.82 766.32,460.08 776.38,425.39 786.44,375.61 796.50,436.04 806.56,325.57 816.62,407.96 826.68,389.86 836.74,321.55 846.80,341.57 856.86,324.65 866.92,395.25 876.98,306.64 887.05,341.98 897.11,318.38 907.17,330.55 917.23,333.15 927.29,241.53 937.35,366.93 947.41,257.25 957.47,318.82 967.53,328.88 977.59,269.81 987.65,306.43 997.71,251.33 1007.77,316.86 1017.83,316.07 1027.89,222.48 1037.95,237.48 1048.02,266.69 1058.08,236.27 1068.14,248.14 1078.20,242.21 1088.26,258.43 1098.32,224.76 1108.38,234.39 1118.44,176.60 1128.50,283.24"/>
<path d="M132.50,697.96 142.56,738.90 152.62,733.35 162.68,709.54 172.74,650.10 182.80,751.26 192.86,726.66 202.92,695.67 212.98,675.72 223.05,669.85 233.11,597.77 243.17,658.47 253.23,664.52 263.29,650.05 273.35,685.67 283.41,618.85 293.47,669.70 303.53,671.53 313.59,615.21 323.65,605.17 333.71,680.77 343.77,565.42 353.83,687.45 363.89,567.61 373.95,598.40 384.02,551.41 394.08,569.15 404.14,529.84 414.20,580.62 424.26,543.23 434.32,612.10 444.38,569.42 454.44,507.08 464.50,528.44 474.56,606.31 484.62,567.67 494.68,535.09 504.74,567.63 514.80,558.83 524.86,460.75 534.92,560.11 544.98,506.28 555.05,477.60 565.11,496.53 575.17,505.97 585.23,469.02 595.29,507.39 605.35,424.39 615.41,500.96 625.47,517.70 635.53,594.46 645.59,453.25 655.65,496.73 665.71,451.54 675.77,507.34 685.83,406.67 695.89,446.80 705.95,391.16 716.02,408.68 726.08,387.62 736.14,396.87 746.20,404.88 756.26,350.53 766.32,419.03 776.38,446.58 786.44,316.19 796.50,398.03 806.56,346.38 816.62,388.83 826.68,362.44 836.74,347.23 846.80,433.13 856.86,344.45 866.92,387.46 876.98,274.93 887.05,315.98 897.11,290.50 907.17,342.00 917.23,323.28 927.29,308.82 937.35,301.94 947.41,347.35 957.47,314.69 967.53,347.25 977.59,240.53 987.65,299.41 997.71,259.19 1007.77,286.21 1017.83,246.58 1027.89,256.74 1037.95,225.96 1048.02,226.03 1058.08,236.98 1068.14,265.26 1078.20,261.91 1088.26,218.83 1098.32,265.05 1108.38,186.11 1118.44,201.03 1128.50,201.06"/>
<path d="M132.50,720.21 142.56,681.20 152.62,701.03 162.68,712.92 172.74,714.88 182.80,701.97 192.86,658.68 202.92,679.35 212.98,700.68 223.05,685.47 233.11,758.73 243.17,656.54 253.23,625.15 263.29,699.72 273.35,648.11 283.41,664.97 293.47,671.33 303.53,633.18 313.59,659.43 323.65,629.25 333.71,571.30 343.77,680.37 353.83,636.49 363.89,622.21 373.95,553.82 384.02,562.47 394.08,592.93 404.14,631.98 414.20,570.19 424.26,571.64 434.32,551.48 444.38,565.25 454.44,613.19 464.50,566.02 474.56,493.41 484.62,608.06 494.68,534.21 504.74,474.92 514.80,546.86 524.86,505.61 534.92,537.72 544.98,499.01 555.05,559.73 565.11,527.78 575.17,458.91 585.23,407.87 595.29,505.14 605.35,469.87 615.41,433.12 625.47,482.30 635.53,463.26 645.59,435.11 655.65,548.53 665.71,429.84 675.77,481.24 685.83,439.24 695.89,450.42 705.95,436.07 716.02,393.32 726.08,410.86 736.14,437.27 746.20,408.54 756.26,373.90 766.32,382.73 776.38,452.60 786.44,504.04 796.50,373.12 806.56,396.12 816.62,361.98 826.68,360.34 836.74,384.71 846.80,347.94 856.86,335.16 866.92,315.47 876.98,343.00 887.05,374.69 897.11,344.10 907.17,378.21 917.23,321.25 927.29,375.45 937.35,236.45 947.41,382.06 957.47,310.71 967.53,224.63 977.59,336.99 987.65,322.90 997.71,363.40 1007.77,338.04 1017.83,315.04 1027.89,330.39 1037.95,251.25 1048.02,204.79 1058.08,287.53 1068.14,292.76 1078.20,200.99 1088.26,295.53 1098.32,221.79 1108.38,200.73 1118.44,147.29 1128.50,202.04"/>
<path d="M132.50,754.21 142.56,667.00 152.62,773.87 162.68,687.04 172.74,699.13 182.80,784.81 192.86,694.97 202.92,672.29 212.98,681.63 223.05,618.96 233.11,689.10 243.17,719.34 253.23,672.59 263.29,650.28 273.35,741.03 283.41,661.08 293.47,617.48 303.53,640.03 313.59,609.05 323.65,568.31 333.71,690.11 343.77,562.57 353.83,583.74 363.89,553.69 373.95,575.52 384.02,592.38 394.08,518.93 404.14,593.54 414.20,655.89 424.26,573.55 434.32,643.63 444.38,512.61 454.44,614.48 464.50,509.90 474.56,577.33 484.62,558.43 494.68,483.80 504.74,516.81 514.80,581.46 524.86,531.35 534.92,532.14 544.98,548.10 555.05,485.24 565.11,404.80 575.17,540.80 585.23,502.03 595.29,388.09 605.35,476.10 615.41,491.93 625.47,474.01 635.53,531.73 645.59,469.13 655.65,499.53 665.71,500.55 675.77,440.08 685.83,471.39 695.89,419.15 705.95,416.32 716.02,414.10 726.08,418.04 736.14,398.29 746.20,454.79 756.26,456.10 766.32,432.48 776.38,354.73 786.44,394.06 796.50,393.59 806.56,390.75 816.62,373.38 826.68,352.42 836.74,365.89 846.80,325.02 856.86,309.40 866.92,311.27 876.98,340.11 887.05,288.33 897.11,330.53 907.17,323.31 917.23,321.71 927.29,293.97 937.35,340.08 947.41,341.36 957.47,244.48 967.53,352.23 977.59,247.31 987.65,351.77 997.71,217.44 1007.77,282.87 1017.83,184.47 1027.89,257.69 1037.95,288.40 1048.02,227.30 1058.08,245.31 1068.14,223.50 1078.20,235.61 1088.26,187.72 1098.32,198.88 1108.38,244.86 1118.44,215.83 1128.50,157.76"/>
<path d="M132.50,715.54 142.56,670.83 152.62,670.97 162.68,698.57 172.74,671.32 182.80,718.14 192.86,694.24 202.92,614.27 212.98,672.67 223.05,629.87 233.11,687.99 243.17,756.73 253.23,695.97 263.29,665.80 273.35,697.71 283.41,614.80 293.47,641.89 303.53,672.95 313.59,590.53 323.65,638.61 333.71,665.00 343.77,620.31 353.83,605.18 363.89,516.06 373.95,590.90 384.02,609.65 394.08,628.12 404.14,579.46 414.20,593.18 424.26,544.25 434.32,560.25 444.38,510.41 454.44,551.85 464.50,607.73 474.56,583.22 484.62,545.83 494.68,517.19 504.74,442.48 514.80,504.62 524.86,502.54 534.92,567.44 544.98,500.97 555.05,559.00 565.11,526.25 575.17,466.62 585.23,458.16 595.29,504.74 605.35,505.09 615.41,489.12 625.47,402.40 635.53,570.54 645.59,468.67 655.65,416.86 665.71,459.66 675.77,493.00 685.83,418.78 695.89,405.15 705.95,479.46 716.02,439.92 726.08,398.14 736.14,447.15 746.20,414.42 756.26,416.84 766.32,409.17 776.38,404.09 786.44,343.98 796.50,345.94 806.56,364.46 816.62,385.27 826.68,434.89 836.74,402.36 846.80,320.04 856.86,390.87 866.92,363.61 876.98,305.56 887.05,390.92 897.11,270.81 907.17,335.73 917.23,417.58 927.29,360.36 937.35,326.89 947.41,258.88 957.47,265.78 967.53,274.10 977.59,280.65 987.65,294.60 997.71,305.00 1007.77,322.30 1017.83,237.40 1027.89,266.41 1037.95,228.46 1048.02,173.34 1058.08,238.88 1068.14,255.96 1078.20,207.00 1088.26,256.78 1098.32,218.38 1108.38,158.22 1118.44,247.85 1128.50,255.10"/>
<path d="M132.50,763.18 142.56,671.03 152.62,690.19 162.68,659.65 172.74,674.22 182.80,689.07 192.86,683.33 202.92,684.21 212.98,708.00 223.05,672.35 233.11,683.55 243.17,640.46 253.23,702.08 263.29,699.81 273.35,592.67 283.41,652.95 293.47,592.28 303.53,597.58 313.59,661.76 323.65,661.71 333.71,643.96 343.77,691.56 353.83,598.91 363.89,625.90 373.95,654.57 384.02,628.05 394.08,544.93 404.14,542.42 414.20,535.73 424.26,600.87 434.32,512.03 444.38,598.25 454.44,535.64 464.50,561.86 474.56,496.49 484.62,518.76 494.68,598.27 504.74,479.73 514.80,542.61 524.86,551.02 534.92,532.32 544.98,560.37 555.05,527.93 565.11,551.58 575.17,444.20 585.23,497.04 595.29,575.91 605.35,530.60 615.41,490.95 625.47,579.40 635.53,548.43 645.59,528.08 655.65,421.38 665.71,443.40 675.77,456.25 685.83,496.93 695.89,456.31 705.95,478.42 716.02,423.89 726.08,402.43 736.14,425.31 746.20,401.33 756.26,367.50 766.32,401.43 776.38,436.68 786.44,321.22 796.50,378.27 806.56,400.60 816.62,382.83 826.68,362.77 836.74,372.64 846.80,388.43 856.86,332.25 866.92,355.34 876.98,370.03 887.05,412.07 897.11,357.59 907.17,317.43 917.23,302.00 927.29,369.45 937.35,259.24 947.41,351.52 957.47,329.13 967.53,294.34 977.59,280.17 987.65,291.64 997.71,308.14 1007.77,346.68 1017.83,315.51 1027.89,260.54 1037.95,252.12 1048.02,251.07 1058.08,257.93 1068.14,250.68 1078.20,241.25 1088.26,125.84 1098.32,234.74 1108.38,268.52 1118.44,184.88 1128.50,164.60"/>
<path d="M132.50,691.25 142.56,722.36 152.62,771.94 162.68,678.60 172.74,659.52 182.80,742.63 192.86,731.95 202.92,713.13 212.98,716.54 223.05,678.23 233.11,745.54 243.17,661.54 253.23,675.50 263.29,606.91 273.35,691.68 283.41,576.40 293.47,648.10 303.53,632.48 313.59,662.07 323.65,695.47 333.71,679.97 343.77,611.83 353.83,612.04 363.89,557.50 373.95,605.34 384.02,547.30 394.08,526.61 404.14,575.48 414.20,543.43 424.26,590.47 434.32,629.52 444.38,573.00 454.44,567.03 464.50,600.12 474.56,554.39 484.62,487.82 494.68,555.97 504.74,466.09 514.80,567.41 524.86,574.95 534.92,575.17 544.98,501.14 555.05,519.55 565.11,499.49 575.17,462.77 585.23,442.57 595.29,507.18 605.35,421.65 615.41,484.43 625.47,486.42 635.53,519.94 645.59,502.99 655.65,462.09 665.71,445.23 675.77,485.40 685.83,401.64 695.89,390.15 705.95,506.31 716.02,455.02 726.08,395.84 736.14,381.45 746.20,405.41 756.26,412.01 766.32,400.34 776.38,380.62 786.44,385.31 796.50,262.93 806.56,410.75 816.62,402.87 826.68,346.67 836.74,324.95 846.80,358.19 856.86,354.24 866.92,357.11 876.98,299.81 887.05,356.50 897.11,348.17 907.17,287.62 917.23,281.60 927.29,333.38 937.35,329.75 947.41,253.50 957.47,255.65 967.53,257.06 977.59,322.81 987.65,342.30 997.71,249.74 1007.77,275.55 1017.83,227.76 1027.89,319.35 1037.95,195.60 1048.02,272.69 1058.08,260.77 1068.14,240.37 1078.20,269.80 1088.26,232.84 1098.32,259.16 1108.38,221.47 1118.44,258.15 1128.50,249.67"/>
<path d="M132.50,692.52 142.56,634.89 152.62,723.37 162.68,734.02 172.74,666.50 182.80,707.57 192.86,666.54 202.92,748.78 212.98,662.92 223.05,597.26 233.11,663.19 243.17,619.25 253.23,658.00 263.29,619.86 273.35,665.88 283.41,662.42 293.47,625.69 303.53,618.06 313.59,584.00 323.65,590.56 333.71,649.14 343.77,627.44 353.83,618.70 363.89,581.55 373.95,654.40 384.02,558.37 394.08,589.29 404.14,580.86 414.20,552.22 424.26,577.87 434.32,596.93 444.38,592.49 454.44,581.11 464.50,544.50 474.56,603.78 484.62,592.68 494.68,506.79 504.74,563.43 514.80,545.98 524.86,440.81 534.92,534.90 544.98,528.94 555.05,489.39 565.11,472.72 575.17,469.22 585.23,392.50 595.29,411.33 605.35,437.17 615.41,527.19 625.47,484.59 635.53,547.01 645.59,516.39 655.65,449.48 665.71,435.96 675.77,488.32 685.83,458.62 695.89,379.69 705.95,432.44 716.02,382.65 726.08,404.10 736.14,429.72 746.20,442.24 756.26,389.56 766.32,426.68 776.38,400.70 786.44,380.65 796.50,390.03 806.56,418.52 816.62,418.22 826.68,360.36 836.74,343.00 846.80,350.31 856.86,337.65 866.92,393.62 876.98,357.18 887.05,313.33 897.11,283.37 907.17,366.38 917.23,389.07 927.29,317.04 937.35,302.59 947.41,277.24 957.47,251.19 967.53,303.13 977.59,346.62 987.65,351.08 997.71,348.34 1007.77,281.94 1017.83,260.45 1027.89,294.83 1037.95,215.51 1048.02,238.98 1058.08,264.19 1068.14,224.27 1078.20,228.06 1088.26,253.21 1098.32,217.21 1108.38,180.89 1118.44,194.04 1128.50,196.66"/>
<path d="M132.50,742.03 142.56,711.38 152.62,752.47 162.68,694.39 172.74,718.31 182.80,728.80 192.86,726.71 202.92,685.09 212.98,690.80 223.05,709.90 233.11,669.28 243.17,601.71 253.23,595.97 263.29,684.58 273.35,676.76 283.41,644.17 293.47,654.35 303.53,568.97 313.59,612.74 323.65,604.87 333.71,599.72 343.77,627.18 353.83,579.63 363.89,657.71 373.95,601.11 384.02,545.69 394.08,658.60 404.14,624.84 414.20,622.76 424.26,547.88 434.32,571.25 444.38,574.94 454.44,532.52 464.50,623.69 474.56,515.11 484.62,563.41 494.68,525.74 504.74,496.91 514.80,554.39 524.86,459.98 534.92,525.90 544.98,483.88 555.05,570.71 565.11,537.24 575.17,502.63 585.23,458.45 595.29,485.03 605.35,537.29 615.41,457.58 625.47,464.85 635.53,429.79 645.59,468.19 655.65,375.59 665.71,495.42 675.77,425.42 685.83,382.40 695.89,455.56 705.95,408.83 716.02,414.71 726.08,437.76 736.14,355.17 746.20,423.21 756.26,438.11 766.32,474.75 776.38,363.07 786.44,439.38 796.50,365.62 806.56,366.17 816.62,469.53 826.68,367.33 836.74,363.98 846.80,332.70 856.86,391.21 866.92,304.17 876.98,307.41 887.05,252.90 897.11,281.36 907.17,363.19 917.23,323.68 927.29,341.97 937.35,371.56 947.41,381.23 957.47,306.68 967.53,345.59 977.59,283.39 987.65,260.34 997.71,239.11 1007.77,290.34 1017.83,233.83 1027.89,227.72 1037.95,251.26 1048.02,280.87 1058.08,219.32 1068.14,320.56 1078.20,194.59 1088.26,193.02 1098.32,239.28 1108.38,220.30 1118.44,290.75 1128.50,245.50"/>
<path d="M132.50,740.13 142.56,647.38 152.62,769.33 162.68,744.38 172.74,692.59 182.80,688.02 192.86,700.57 202.92,685.59 212.98,652.91 223.05,689.11 233.11,631.26 243.17,637.56 253.23,596.09 263.29,666.83 273.35,691.11 283.41,637.99 293.47,606.80 303.53,584.17 313.59,557.82 323.65,699.96 333.71,636.06 343.77,566.54 353.83,647.92 363.89,619.55 373.95,647.00 384.02,626.62 394.08,617.89 404.14,617.10 414.20,559.49 424.26,655.42 434.32,570.76 444.38,510.48 454.44,611.59 464.50,537.51 474.56,594.07 484.62,556.01 494.68,533.78 504.74,498.08 514.80,520.85 524.86,551.50 534.92,491.15 544.98,575.03 555.05,481.62 565.11,541.30 575.17,542.91 585.23,490.10 595.29,566.11 605.35,510.31 615.41,509.92 625.47,516.27 635.53,461.68 645.59,459.62 655.65,438.45 665.71,388.51 675.77,454.39 685.83,368.30 695.89,507.01 705.95,497.73 716.02,465.79 726.08,433.06 736.14,421.33 746.20,350.97 756.26,424.92 766.32,363.42 776.38,391.18 786.44,359.62 796.50,344.75 806.56,451.55 816.62,353.39 826.68,389.35 836.74,384.64 846.80,402.49 856.86,370.36 866.92,402.37 876.98,377.92 887.05,341.43 897.11,346.13 907.17,303.37 917.23,411.56 927.29,289.96 937.35,298.91 947.41,360.38 957.47,324.62 967.53,313.62 977.59,297.50 987.65,331.94 997.71,331.43 1007.77,213.34 1017.83,310.99 1027.89,302.46 1037.95,263.93 1048.02,222.25 1058.08,291.65 1068.14,239.78 1078.20,200.29 1088.26,234.25 1098.32,242.69 1108.38,217.02 1118.44,220.69 1128.50,257.97"/>
<path d="M132.50,711.20 142.56,750.84 152.62,639.84 162.68,741.29 172.74,641.75 182.80,681.15 192.86,670.10 202.92,686.85 212.98,734.89 223.05,678.54 233.11,680.59 243.17,577.44 253.23,647.25 263.29,661.12 273.35,648.76 283.41,568.29 293.47,702.35 303.53,639.57 313.59,625.70 323.65,615.52 333.71,569.14 343.77,643.32 353.83,688.02 363.89,625.90 373.95,630.82 384.02,667.95 394.08,583.38 404.14,580.64 414.20,616.31 424.26,494.48 434.32,515.16 444.38,588.91 454.44,509.81 464.50,599.47 474.56,544.54 484.62,459.06 494.68,504.82 504.74,549.48 514.80,611.48 524.86,497.29 534.92,550.92 544.98,451.07 555.05,459.84 565.11,491.08 575.17,446.03 585.23,552.14 595.29,407.06 605.35,422.95 615.41,432.51 625.47,456.22 635.53,499.27 645.59,481.85 655.65,473.82 665.71,402.21 675.77,521.03 685.83,455.64 695.89,416.96 705.95,497.30 716.02,448.21 726.08,363.41 736.14,411.52 746.20,370.56 756.26,410.63 766.32,367.91 776.38,376.44 786.44,352.05 796.50,386.27 806.56,420.40 816.62,428.54 826.68,343.43 836.74,383.07 846.80,392.86 856.86,330.95 866.92,337.07 876.98,390.29 887.05,405.05 897.11,392.38 907.17,275.10 917.23,309.16 927.29,331.61 937.35,296.60 947.41,314.76 957.47,362.85 967.53,268.08 977.59,260.23 987.65,341.49 997.71,232.61 1007.77,286.08 1017.83,304.25 1027.89,147.95 1037.95,271.91 1048.02,324.18 1058.08,251.67 1068.14,227.17 1078.20,202.95 1088.26,225.65 1098.32,239.21 1108.38,251.64 1118.44,201.93 1128.50,245.85"/>
<path d="M132.50,688.84 142.56,732.11 152.62,791.84 162.68,676.31 172.74,712.98 182.80,696.52 192.86,631.43 202.92,693.89 212.98,673.32 223.05,671.51 233.11,614.12 243.17,678.68 253.23,692.17 263.29,684.74 273.35,730.89 283.41,717.19 293.47,592.44 303.53,638.51 313.59,628.53 323.65,617.62 333.71,575.77 343.77,626.61 353.83,617.47 363.89,570.74 373.95,558.44 384.02,558.90 394.08,634.47 404.14,578.15 414.20,597.46 424.26,592.55 434.32,559.64 444.38,507.02 454.44,625.10 464.50,586.82 474.56,551.06 484.62,559.45 494.68,507.80 504.74,542.35 514.80,547.74 524.86,471.33 534.92,484.39 544.98,552.83 555.05,576.46 565.11,495.49 575.17,408.66 585.23,512.71 595.29,541.35 605.35,524.52 615.41,528.98 625.47,486.92 635.53,432.20 645.59,451.96 655.65,419.90 665.71,409.26 675.77,439.38 685.83,429.80 695.89,474.92 705.95,408.07 716.02,424.99 726.08,452.23 736.14,430.82 746.20,404.98 756.26,316.40 766.32,354.33 776.38,432.18 786.44,367.82 796.50,420.61 806.56,360.50 816.62,424.43 826.68,426.10 836.74,360.25 846.80,327.38 856.86,391.92 866.92,316.10 876.98,299.78 887.05,316.89 897.11,294.43 907.17,327.29 917.23,260.54 927.29,285.68 937.35,308.38 947.41,333.35 957.47,299.31 967.53,254.60 977.59,270.95 987.65,316.60 997.71,316.72 1007.77,260.45 1017.83,312.68 1027.89,218.73 1037.95,267.16 1048.02,253.09 1058.08,337.64 1068.14,200.83 1078.20,258.97 1088.26,208.82 1098.32,312.34 1108.38,209.42 1118.44,211.08 1128.50,279.77"/>
</g>
<path d="M132.50,716.43 142.56,710.96 152.62,720.81 162.68,698.37 172.74,687.80 182.80,709.32 192.86,696.43 202.92,690.12 212.98,683.45 223.05,671.35 233.11,676.52 243.17,658.73 253.23,659.24 263.29,659.34 273.35,672.85 283.41,643.90 293.47,641.38 303.53,632.54 313.59,628.69 323.65,643.52 333.71,633.28 343.77,613.72 353.83,617.46 363.89,599.73 373.95,609.22 384.02,593.35 394.08,579.40 404.14,577.67 414.20,576.31 424.26,575.90 434.32,578.37 444.38,549.44 454.44,569.81 464.50,561.55 474.56,558.20 484.62,543.34 494.68,532.45 504.74,521.30 514.80,547.24 524.86,526.33 534.92,532.04 544.98,521.91 555.05,517.09 565.11,504.89 575.17,489.39 585.23,468.51 595.29,489.17 605.35,476.95 615.41,476.97 625.47,482.41 635.53,491.92 645.59,469.88 655.65,456.76 665.71,445.25 675.77,465.91 685.83,437.48 695.89,446.44 705.95,453.06 716.02,422.55 726.08,414.65 736.14,417.07 746.20,416.26 756.26,410.60 766.32,418.25 776.38,396.32 786.44,384.81 796.50,373.67 806.56,382.02 816.62,391.06 826.68,362.83 836.74,371.29 846.80,373.78 856.86,355.87 866.92,343.85 876.98,350.85 887.05,333.63 897.11,327.83 907.17,327.11 917.23,325.62 927.29,312.12 937.35,311.39 947.41,316.03 957.47,303.13 967.53,304.41 977.59,282.55 987.65,302.76 997.71,286.79 1007.77,296.63 1017.83,270.92 1027.89,263.42 1037.95,243.64 1048.02,251.84 1058.08,253.43 1068.14,248.10 1078.20,242.34 1088.26,226.13 1098.32,241.09 1108.38,228.46 1118.44,212.18 1128.50,226.14" stroke="#F8766D" stroke-width="6.9" fill="none" stroke-dasharray="27.32 27.32" stroke-linejoin="round"/>
<path d="M132.50,225.94 142.56,233.79 152.62,228.72 162.68,226.50 172.74,234.70 182.80,238.42 192.86,220.67 202.92,233.15 212.98,246.39 223.05,258.84 233.11,266.68 243.17,275.22 253.23,294.73 263.29,299.89 273.35,311.87 283.41,323.96 293.47,337.90 303.53,352.09 313.59,365.68 323.65,373.58 333.71,383.17 343.77,413.54 353.83,416.63 363.89,439.61 373.95,463.95 384.02,467.68 394.08,492.42 404.14,510.78 414.20,521.70 424.26,529.58 434.32,557.42 444.38,573.81 454.44,602.58 464.50,614.88 474.56,613.39 484.62,627.53 494.68,640.11 504.74,653.78 514.80,640.75 524.86,666.77 534.92,676.48 544.98,692.01 555.05,707.35 565.11,706.04 575.17,710.54 585.23,710.90 595.29,713.54 605.35,722.27 615.41,741.82 625.47,727.78 635.53,725.45 645.59,716.62 655.65,710.00 665.71,716.90 675.77,707.05 685.83,703.29 695.89,702.17 705.95,708.39 716.02,680.47 726.08,656.16 736.14,675.15 746.20,647.58 756.26,653.09 766.32,638.47 776.38,630.82 786.44,601.92 796.50,592.05 806.56,576.81 816.62,578.61 826.68,558.81 836.74,542.20 846.80,519.59 856.86,503.92 866.92,486.00 876.98,480.95 887.05,462.04 897.11,451.00 907.17,423.46 917.23,397.12 927.29,399.27 937.35,395.23 947.41,368.41 957.47,350.28 967.53,351.49 977.59,330.74 987.65,312.93 997.71,287.58 1007.77,295.83 1017.83,260.99 1027.89,259.90 1037.95,265.18 1048.02,245.32 1058.08,252.02 1068.14,235.69 1078.20,231.36 1088.26,238.12 1098.32,229.75 1108.38,228.99 1118.44,234.16 1128.50,218.22" stroke="#00BA38" stroke-width="6.9" fill="none" stroke-dasharray="27.32 27.32" stroke-linejoin="round"/>
<path d="M132.50,461.96 142.56,450.11 152.62,437.01 162.68,407.07 172.74,422.47 182.80,391.62 192.86,382.90 202.92,367.25 212.98,331.70 223.05,347.30 233.11,334.12 243.17,293.42 253.23,289.04 263.29,285.44 273.35,271.59 283.41,268.47 293.47,263.60 303.53,261.26 313.59,253.05 323.65,219.84 333.71,229.56 343.77,221.17 353.83,233.42 363.89,222.15 373.95,214.74 384.02,218.63 394.08,233.18 404.14,227.51 414.20,239.29 424.26,229.59 434.32,238.85 444.38,244.45 454.44,247.68 464.50,244.75 474.56,262.42 484.62,277.24 494.68,290.00 504.74,294.12 514.80,304.64 524.86,330.14 534.92,333.38 544.98,340.97 555.05,366.42 565.11,380.62 575.17,392.22 585.23,403.85 595.29,425.09 605.35,439.09 615.41,439.10 625.47,468.57 635.53,490.65 645.59,505.23 655.65,503.28 665.71,528.04 675.77,535.88 685.83,562.55 695.89,562.72 705.95,581.86 716.02,607.03 726.08,616.31 736.14,611.07 746.20,632.68 756.26,636.25 766.32,663.36 776.38,678.57 786.44,680.60 796.50,673.89 806.56,694.74 816.62,719.76 826.68,700.30 836.74,702.41 846.80,728.77 856.86,726.51 866.92,728.43 876.98,715.99 887.05,712.18 897.11,725.40 907.17,710.11 917.23,724.41 927.29,706.07 937.35,693.08 947.41,716.91 957.47,689.88 967.53,697.26 977.59,682.68 987.65,668.03 997.71,658.63 1007.77,652.14 1017.83,635.42 1027.89,612.83 1037.95,598.98 1048.02,594.42 1058.08,569.63 1068.14,555.71 1078.20,551.50 1088.26,529.83 1098.32,530.14 1108.38,505.24 1118.44,481.87 1128.50,469.06" stroke="#619CFF" stroke-width="6.9" fill="none" stroke-dasharray="27.32 27.32" stroke-linejoin="round"/>
</g>
<text x="132.50" y="905.8" text-anchor="middle" class="ax">0.00</text>
<text x="381.50" y="905.8" text-anchor="middle" class="ax">0.25</text>
<text x="630.50" y="905.8" text-anchor="middle" class="ax">0.50</text>
<text x="879.50" y="905.8" text-anchor="middle" class="ax">0.75</text>
<text x="1128.50" y="905.8" text-anchor="middle" class="ax">1.00</text>
<text x="67.0" y="228.00" text-anchor="end" class="ax">1</text>
<text x="69.8" y="479.60" text-anchor="end" class="ax">0</text>
<text x="67.0" y="731.20" text-anchor="end" class="ax">-1</text>
<text x="83.5" y="39.8" style="font-size:35.2px;fill:#000">Fuzzy C-Means Clustering</text>
<text x="630" y="938.7" text-anchor="middle" style="font-size:29px;fill:#000">t</text>
<text transform="translate(36,469.2) rotate(-90)" text-anchor="middle" style="font-size:29px;fill:#000">X(t)</text>
<text x="1221.5" y="403.5" class="lt">Cluster</text>
<line x1="1226.25" x2="1263.2" y1="443.3" y2="443.3" stroke="#F8766D" stroke-opacity="0.5" stroke-width="2.76"/>
<line x1="1226.25" x2="1253.57" y1="443.3" y2="443.3" stroke="#F8766D" stroke-width="6.9"/>
<text x="1283" y="451.30" class="lx">1</text>
<line x1="1226.25" x2="1263.2" y1="489.3" y2="489.3" stroke="#00BA38" stroke-opacity="0.5" stroke-width="2.76"/>
<line x1="1226.25" x2="1253.57" y1="489.3" y2="489.3" stroke="#00BA38" stroke-width="6.9"/>
<text x="1283" y="497.30" class="lx">2</text>
<line x1="1226.25" x2="1263.2" y1="535.3" y2="535.3" stroke="#619CFF" stroke-opacity="0.5" stroke-width="2.76"/>
<line x1="1226.25" x2="1253.57" y1="535.3" y2="535.3" stroke="#619CFF" stroke-width="6.9"/>
<text x="1283" y="543.30" class="lx">3</text>
</svg>
</body></html>
